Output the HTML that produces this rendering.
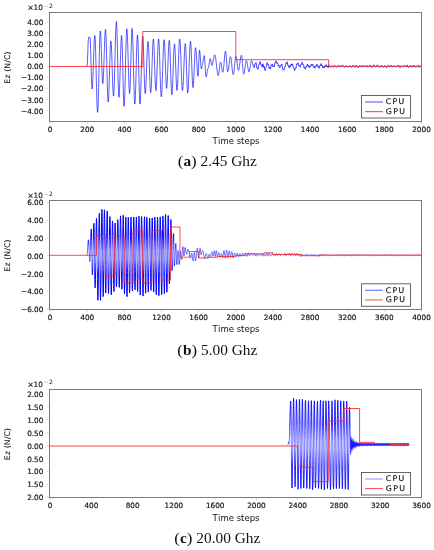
<!DOCTYPE html><html><head><meta charset="utf-8"><style>
html,body{margin:0;padding:0;background:#fff;width:434px;height:550px;overflow:hidden}
svg{display:block} .tk{font-family:'DejaVu Sans', 'Liberation Sans', sans-serif;font-size:7.3px;fill:#111111;stroke:#111111;stroke-width:0.18px} .xl{font-family:'DejaVu Sans', 'Liberation Sans', sans-serif;font-size:8.5px;fill:#111111} .yl{font-family:'DejaVu Sans', 'Liberation Sans', sans-serif;font-size:7.7px;fill:#111111;stroke:#111111;stroke-width:0.08px;letter-spacing:0.15px} .lg{font-family:'DejaVu Sans', 'Liberation Sans', sans-serif;font-size:7.8px;fill:#111111;stroke:#111111;stroke-width:0.15px;letter-spacing:1.3px} .cap{font-family:'Liberation Serif', serif;font-size:13.6px;fill:#111} .mul{font-family:'DejaVu Sans', 'Liberation Sans', sans-serif;font-size:7.3px;fill:#111111;stroke:#111111;stroke-width:0.15px} .sup{font-family:'DejaVu Sans', 'Liberation Sans', sans-serif;font-size:6px;fill:#111111;letter-spacing:0.3px}
</style></head><body>
<svg width="434" height="550" viewBox="0 0 434 550">
<defs><linearGradient id="g3" x1="0" y1="401" x2="0" y2="489" gradientUnits="userSpaceOnUse"><stop offset="0.2" stop-color="#0000ff" stop-opacity="0"/><stop offset="0.4" stop-color="#0000ff" stop-opacity="0.2"/><stop offset="0.6" stop-color="#0000ff" stop-opacity="0.2"/><stop offset="0.8" stop-color="#0000ff" stop-opacity="0"/></linearGradient><linearGradient id="s3" x1="0" y1="401" x2="0" y2="489" gradientUnits="userSpaceOnUse"><stop offset="0.25" stop-color="#0000ff" stop-opacity="1"/><stop offset="0.45" stop-color="#0000ff" stop-opacity="0.6"/><stop offset="0.55" stop-color="#0000ff" stop-opacity="0.6"/><stop offset="0.75" stop-color="#0000ff" stop-opacity="1"/></linearGradient><linearGradient id="s2" x1="0" y1="215" x2="0" y2="295" gradientUnits="userSpaceOnUse"><stop offset="0.25" stop-color="#0000ff" stop-opacity="1"/><stop offset="0.45" stop-color="#0000ff" stop-opacity="0.55"/><stop offset="0.55" stop-color="#0000ff" stop-opacity="0.55"/><stop offset="0.75" stop-color="#0000ff" stop-opacity="1"/></linearGradient><linearGradient id="g2" x1="0" y1="215" x2="0" y2="295" gradientUnits="userSpaceOnUse"><stop offset="0.12" stop-color="#0000ff" stop-opacity="0"/><stop offset="0.33" stop-color="#0000ff" stop-opacity="0.45"/><stop offset="0.67" stop-color="#0000ff" stop-opacity="0.45"/><stop offset="0.88" stop-color="#0000ff" stop-opacity="0"/></linearGradient></defs>
<polyline points="86.60,66.30 86.80,66.30 87.00,66.30 87.23,64.88 87.46,60.90 87.69,55.14 87.91,48.76 88.14,43.00 88.37,39.02 88.60,37.60 88.82,37.48 89.05,37.20 89.28,36.92 89.50,36.80 89.75,37.30 90.00,37.80 90.21,39.05 90.42,42.69 90.63,48.35 90.84,55.49 91.05,63.40 91.26,71.31 91.47,78.45 91.68,84.11 91.89,87.75 92.10,89.00 92.31,88.22 92.52,85.94 92.72,82.27 92.93,77.45 93.14,71.74 93.35,65.47 93.55,59.03 93.76,52.76 93.97,47.05 94.18,42.23 94.38,38.56 94.59,36.28 94.80,35.50 95.02,36.62 95.23,39.90 95.45,45.17 95.66,52.11 95.88,60.32 96.09,69.32 96.31,78.58 96.52,87.58 96.74,95.79 96.95,102.73 97.17,108.00 97.38,111.28 97.60,112.40 97.81,111.22 98.02,107.73 98.22,102.15 98.43,94.80 98.64,86.10 98.85,76.56 99.05,66.74 99.26,57.20 99.47,48.50 99.68,41.15 99.88,35.57 100.09,32.08 100.30,30.90 100.51,31.80 100.72,34.43 100.92,38.62 101.13,44.07 101.34,50.43 101.55,57.25 101.76,64.07 101.97,70.42 102.17,75.88 102.38,80.07 102.59,82.70 102.80,83.60 103.01,82.81 103.22,80.50 103.42,76.78 103.63,71.89 103.84,66.11 104.05,59.77 104.25,53.23 104.46,46.89 104.67,41.11 104.88,36.22 105.08,32.50 105.29,30.19 105.50,29.40 105.71,30.45 105.92,33.56 106.12,38.53 106.33,45.08 106.54,52.83 106.75,61.32 106.95,70.08 107.16,78.57 107.37,86.32 107.58,92.87 107.78,97.84 107.99,100.95 108.20,102.00 108.41,101.11 108.62,98.50 108.82,94.32 109.03,88.80 109.24,82.28 109.45,75.13 109.65,67.77 109.86,60.62 110.07,54.10 110.28,48.58 110.48,44.40 110.69,41.79 110.90,40.90 111.12,41.84 111.33,44.60 111.55,48.98 111.77,54.70 111.98,61.36 112.20,68.50 112.42,75.64 112.63,82.30 112.85,88.02 113.07,92.40 113.28,95.16 113.50,96.10 113.71,95.16 113.91,92.41 114.12,87.96 114.33,82.06 114.54,74.98 114.74,67.10 114.95,58.80 115.16,50.50 115.36,42.62 115.57,35.54 115.78,29.64 115.99,25.19 116.19,22.44 116.40,21.50 116.61,22.79 116.82,26.58 117.03,32.62 117.23,40.47 117.44,49.63 117.65,59.45 117.86,69.27 118.07,78.42 118.28,86.28 118.48,92.32 118.69,96.11 118.90,97.40 119.11,96.50 119.32,93.85 119.52,89.62 119.73,84.03 119.94,77.43 120.15,70.18 120.35,62.72 120.56,55.47 120.77,48.87 120.98,43.28 121.18,39.05 121.39,36.40 121.60,35.50 121.81,36.70 122.02,40.24 122.22,45.85 122.43,53.17 122.64,61.70 122.85,70.85 123.06,80.00 123.27,88.52 123.47,95.85 123.68,101.46 123.89,105.00 124.10,106.20 124.31,105.08 124.52,101.77 124.72,96.47 124.93,89.48 125.14,81.22 125.35,72.16 125.55,62.84 125.76,53.78 125.97,45.52 126.18,38.53 126.38,33.23 126.59,29.92 126.80,28.80 127.02,29.74 127.23,32.51 127.45,36.95 127.66,42.79 127.88,49.71 128.09,57.29 128.31,65.11 128.52,72.69 128.74,79.61 128.95,85.45 129.17,89.89 129.38,92.66 129.60,93.60 129.81,92.49 130.02,89.23 130.22,84.05 130.43,77.30 130.64,69.44 130.85,61.00 131.06,52.56 131.27,44.70 131.47,37.95 131.68,32.77 131.89,29.51 132.10,28.40 132.31,29.50 132.52,32.73 132.72,37.91 132.93,44.73 133.14,52.80 133.35,61.64 133.55,70.76 133.76,79.60 133.97,87.67 134.18,94.49 134.38,99.67 134.59,102.90 134.80,104.00 135.01,103.00 135.22,100.05 135.42,95.32 135.63,89.10 135.84,81.73 136.05,73.66 136.25,65.34 136.46,57.27 136.67,49.90 136.88,43.68 137.08,38.95 137.29,36.00 137.50,35.00 137.71,36.18 137.92,39.62 138.12,45.10 138.33,52.25 138.54,60.57 138.75,69.50 138.96,78.43 139.17,86.75 139.38,93.90 139.58,99.38 139.79,102.82 140.00,104.00 140.21,103.01 140.42,100.11 140.62,95.45 140.83,89.31 141.04,82.06 141.25,74.10 141.45,65.90 141.66,57.94 141.87,50.69 142.08,44.55 142.28,39.89 142.49,36.99 142.70,36.00 142.91,36.98 143.12,39.86 143.32,44.44 143.53,50.40 143.74,57.35 143.95,64.80 144.16,72.25 144.37,79.20 144.57,85.16 144.78,89.74 144.99,92.62 145.20,93.60 145.40,92.95 145.60,91.02 145.80,87.91 146.00,83.77 146.20,78.82 146.40,73.31 146.60,67.50 146.80,61.69 147.00,56.18 147.20,51.23 147.40,47.09 147.60,43.98 147.80,42.05 148.00,41.40 148.21,42.14 148.42,44.33 148.62,47.84 148.83,52.46 149.04,57.92 149.25,63.91 149.45,70.09 149.66,76.08 149.87,81.54 150.08,86.16 150.28,89.67 150.49,91.86 150.70,92.60 150.91,91.82 151.12,89.52 151.32,85.85 151.53,81.00 151.74,75.27 151.95,68.99 152.15,62.51 152.36,56.23 152.57,50.50 152.78,45.65 152.98,41.98 153.19,39.68 153.40,38.90 153.61,39.78 153.82,42.36 154.03,46.46 154.23,51.80 154.44,58.02 154.65,64.70 154.86,71.38 155.07,77.60 155.28,82.94 155.48,87.04 155.69,89.62 155.90,90.50 156.11,89.75 156.32,87.54 156.52,84.01 156.73,79.36 156.94,73.85 157.15,67.81 157.35,61.59 157.56,55.55 157.77,50.04 157.98,45.39 158.18,41.86 158.39,39.65 158.60,38.90 158.81,39.74 159.02,42.22 159.22,46.18 159.43,51.40 159.64,57.58 159.85,64.36 160.05,71.34 160.26,78.12 160.47,84.30 160.68,89.52 160.88,93.48 161.09,95.96 161.30,96.80 161.52,95.97 161.73,93.53 161.95,89.62 162.16,84.47 162.38,78.37 162.59,71.69 162.81,64.81 163.02,58.13 163.24,52.03 163.45,46.88 163.67,42.97 163.88,40.53 164.10,39.70 164.31,40.53 164.52,42.96 164.72,46.83 164.93,51.88 165.14,57.75 165.35,64.05 165.56,70.35 165.77,76.22 165.97,81.27 166.18,85.14 166.39,87.57 166.60,88.40 166.81,87.70 167.02,85.65 167.22,82.35 167.43,78.01 167.64,72.88 167.85,67.25 168.05,61.45 168.26,55.82 168.47,50.69 168.68,46.35 168.88,43.05 169.09,41.00 169.30,40.30 169.51,41.23 169.72,43.94 169.93,48.27 170.13,53.90 170.34,60.46 170.55,67.50 170.76,74.54 170.97,81.10 171.18,86.73 171.38,91.06 171.59,93.77 171.80,94.70 172.01,93.96 172.22,91.79 172.42,88.31 172.63,83.73 172.84,78.31 173.05,72.36 173.25,66.24 173.46,60.29 173.67,54.87 173.88,50.29 174.08,46.81 174.29,44.64 174.50,43.90 174.71,44.69 174.92,47.02 175.12,50.72 175.33,55.55 175.54,61.17 175.75,67.20 175.96,73.23 176.17,78.85 176.38,83.68 176.58,87.38 176.79,89.71 177.00,90.50 177.21,89.75 177.42,87.54 177.62,84.01 177.83,79.36 178.04,73.85 178.25,67.81 178.45,61.59 178.66,55.55 178.87,50.04 179.08,45.39 179.28,41.86 179.49,39.65 179.70,38.90 179.90,39.55 180.10,41.46 180.30,44.53 180.50,48.61 180.70,53.51 180.90,58.96 181.10,64.70 181.30,70.44 181.50,75.89 181.70,80.79 181.90,84.87 182.10,87.94 182.30,89.85 182.50,90.50 182.70,89.91 182.90,88.17 183.10,85.37 183.30,81.65 183.50,77.20 183.70,72.23 183.90,67.00 184.10,61.77 184.30,56.80 184.50,52.35 184.70,48.63 184.90,45.83 185.10,44.09 185.30,43.50 185.52,44.50 185.74,47.43 185.95,52.04 186.17,57.97 186.39,64.73 186.61,71.77 186.83,78.53 187.05,84.46 187.26,89.07 187.48,92.00 187.70,93.00 187.90,92.35 188.10,90.44 188.30,87.35 188.50,83.25 188.70,78.34 188.90,72.86 189.10,67.10 189.30,61.34 189.50,55.86 189.70,50.95 189.90,46.85 190.10,43.76 190.30,41.85 190.50,41.20 190.71,41.99 190.92,44.31 191.12,48.00 191.33,52.80 191.54,58.40 191.75,64.40 191.96,70.40 192.17,76.00 192.38,80.80 192.58,84.49 192.79,86.81 193.00,87.60 193.21,86.92 193.42,84.92 193.62,81.74 193.83,77.60 194.04,72.78 194.25,67.60 194.46,62.42 194.67,57.60 194.88,53.46 195.08,50.28 195.29,48.28 195.50,47.60 195.71,48.09 195.92,49.52 196.12,51.80 196.33,54.77 196.54,58.24 196.75,61.95 196.96,65.66 197.17,69.12 197.38,72.10 197.58,74.38 197.79,75.81 198.00,76.30 198.21,75.00 198.43,71.37 198.64,66.12 198.86,60.28 199.07,55.03 199.29,51.40 199.50,50.10 199.71,50.67 199.92,52.31 200.13,54.83 200.34,57.91 200.56,61.19 200.77,64.28 200.98,66.79 201.19,68.43 201.40,69.00 201.62,68.37 201.85,66.85 202.08,65.33 202.30,64.70 202.51,64.43 202.72,63.64 202.93,62.43 203.14,60.94 203.36,59.36 203.57,57.88 203.78,56.66 203.99,55.87 204.20,55.60 204.41,56.25 204.62,58.10 204.83,60.95 205.04,64.44 205.26,68.16 205.47,71.65 205.68,74.50 205.89,76.35 206.10,77.00 206.30,76.79 206.50,76.17 206.70,75.21 206.90,73.99 207.10,72.65 207.30,71.31 207.50,70.09 207.70,69.13 207.90,68.51 208.10,68.30 208.30,68.10 208.50,67.52 208.70,66.61 208.90,65.44 209.10,64.10 209.30,62.70 209.50,61.36 209.70,60.19 209.90,59.28 210.10,58.70 210.30,58.50 210.53,58.84 210.76,59.80 210.99,61.18 211.21,62.72 211.44,64.10 211.67,65.06 211.90,65.40 212.11,65.27 212.31,64.88 212.52,64.24 212.73,63.40 212.94,62.40 213.14,61.28 213.35,60.10 213.56,58.92 213.76,57.80 213.97,56.80 214.18,55.96 214.39,55.32 214.59,54.93 214.80,54.80 215.01,55.00 215.23,55.59 215.44,56.55 215.65,57.85 215.86,59.42 216.07,61.22 216.29,63.17 216.50,65.20 216.71,67.23 216.93,69.18 217.14,70.98 217.35,72.55 217.56,73.85 217.77,74.81 217.99,75.40 218.20,75.60 218.40,75.37 218.60,74.70 218.80,73.62 219.00,72.22 219.20,70.60 219.40,68.85 219.60,67.10 219.80,65.47 220.00,64.08 220.20,63.00 220.40,62.33 220.60,62.10 220.80,62.31 221.00,62.91 221.20,63.86 221.40,65.08 221.60,66.47 221.80,67.93 222.00,69.32 222.20,70.54 222.40,71.49 222.60,72.09 222.80,72.30 223.01,71.99 223.22,71.09 223.42,69.63 223.63,67.72 223.84,65.46 224.05,62.98 224.25,60.42 224.46,57.94 224.67,55.68 224.88,53.77 225.08,52.31 225.29,51.41 225.50,51.10 225.72,51.61 225.94,53.08 226.16,55.37 226.38,58.25 226.60,61.45 226.82,64.65 227.04,67.53 227.26,69.82 227.48,71.29 227.70,71.80 227.90,71.61 228.10,71.05 228.30,70.14 228.50,68.94 228.70,67.50 228.90,65.89 229.10,64.20 229.30,62.51 229.50,60.90 229.70,59.46 229.90,58.26 230.10,57.35 230.30,56.79 230.50,56.60 230.71,56.86 230.92,57.63 231.12,58.86 231.33,60.49 231.54,62.41 231.75,64.52 231.95,66.68 232.16,68.79 232.37,70.71 232.58,72.34 232.78,73.57 232.99,74.34 233.20,74.60 233.40,74.37 233.60,73.71 233.80,72.64 234.00,71.21 234.20,69.50 234.40,67.60 234.60,65.60 234.80,63.60 235.00,61.70 235.20,59.99 235.40,58.56 235.60,57.49 235.80,56.83 236.00,56.60 236.20,56.84 236.40,57.52 236.60,58.62 236.80,60.05 237.00,61.71 237.20,63.50 237.40,65.29 237.60,66.95 237.80,68.38 238.00,69.48 238.20,70.16 238.40,70.40 238.60,70.23 238.80,69.74 239.00,68.95 239.20,67.89 239.40,66.60 239.60,65.15 239.80,63.59 240.00,62.01 240.20,60.45 240.40,59.00 240.60,57.71 240.80,56.65 241.00,55.86 241.20,55.37 241.40,55.20 241.61,55.58 241.82,56.70 242.03,58.46 242.24,60.72 242.45,63.31 242.65,65.99 242.86,68.58 243.07,70.84 243.28,72.60 243.49,73.72 243.70,74.10 243.91,73.91 244.12,73.33 244.32,72.42 244.53,71.21 244.74,69.78 244.95,68.21 245.15,66.59 245.36,65.02 245.57,63.59 245.78,62.38 245.98,61.47 246.19,60.89 246.40,60.70 246.62,60.89 246.83,61.44 247.05,62.33 247.27,63.48 247.48,64.81 247.70,66.25 247.92,67.69 248.13,69.02 248.35,70.17 248.57,71.06 248.78,71.61 249.00,71.80 249.21,71.61 249.42,71.06 249.62,70.17 249.83,69.03 250.04,67.69 250.25,66.25 250.46,64.81 250.67,63.48 250.88,62.33 251.08,61.44 251.29,60.89 251.50,60.70 251.72,60.81 251.93,61.14 252.15,61.62 252.37,62.26 252.58,63.12 252.80,64.12" fill="none" stroke="#0000ff" stroke-opacity="0.72" stroke-width="0.9" stroke-linejoin="round"/>
<polyline points="252.80,64.12 253.02,64.97 253.23,65.54 253.45,65.94 253.67,66.47 253.88,67.16 254.10,67.65 254.31,67.36 254.53,66.22 254.74,64.83 254.96,63.89 255.17,63.62 255.39,63.55 255.60,63.19 255.81,62.61 256.02,62.50 256.23,63.51 256.44,65.39 256.66,67.19 256.87,68.12 257.08,68.18 257.29,68.01 257.50,68.23 257.71,68.86 257.92,69.30 258.12,68.89 258.33,67.56 258.54,65.97 258.75,64.86 258.96,64.54 259.17,64.59 259.38,64.35 259.58,63.50 259.79,62.36 260.00,61.65 260.20,61.84 260.40,62.80 260.60,63.98 260.80,64.77 261.00,64.96 261.20,64.80 261.40,64.82 261.60,65.36 261.80,66.30 262.00,67.13 262.20,67.21 262.40,66.32 262.60,64.95 262.80,63.87 263.00,63.69 263.20,64.53 263.40,65.91 263.60,67.04 263.80,67.36 264.00,66.87 264.24,66.44 264.48,67.31 264.72,69.07 264.96,70.48 265.20,70.56 265.40,69.67 265.60,68.54 265.80,67.70 266.00,67.33 266.20,67.11 266.40,66.54 266.60,65.37 266.80,63.90 267.00,62.78 267.20,62.57 267.40,63.25 267.60,64.23 267.80,64.85 268.00,64.85 268.20,64.52 268.40,64.51 268.60,65.26 268.80,66.59 269.00,67.83 269.20,68.36 269.40,68.10 269.60,67.61 269.80,67.55 270.00,68.14 270.20,68.86 270.40,68.92 270.60,68.00 270.80,66.50 271.00,65.22 271.20,64.76 271.40,65.02 271.60,65.34 271.80,65.17 272.01,64.46 272.22,63.89 272.43,64.19 272.64,65.33 272.86,66.51 273.07,66.93 273.28,66.49 273.49,65.89 273.70,65.88 273.91,66.45 274.12,66.90 274.33,66.51 274.54,65.16 274.75,63.54 274.96,62.48 275.17,62.30 275.38,62.59 275.59,62.62 275.80,62.09 276.01,61.29 276.22,60.85 276.43,61.25 276.64,62.27 276.85,63.22 277.06,63.52 277.27,63.19 277.48,62.83 277.69,63.04 277.90,64.00 278.11,65.24 278.32,66.10 278.53,66.20 278.74,65.79 278.95,65.48 279.16,65.78 279.37,66.66 279.58,67.59 279.79,67.96 280.00,67.56 280.21,66.61 280.43,65.71 280.64,65.38 280.86,65.54 281.07,65.68 281.29,65.36 281.50,64.59 281.70,64.00 281.90,64.14 282.10,65.20 282.30,66.86 282.50,68.43 282.70,69.34 282.90,69.47 283.10,69.18 283.30,69.00 283.51,69.31 283.71,69.95 283.92,70.26 284.12,69.76 284.33,68.57 284.53,67.31 284.74,66.62 284.94,66.62 285.15,66.79 285.36,66.45 285.56,65.34 285.77,63.91 285.97,62.92 286.18,62.81 286.38,63.28 286.59,63.59 286.79,63.22 287.00,62.35 287.21,61.80 287.42,62.33 287.63,63.76 287.84,65.22 288.06,65.93 288.27,65.87 288.48,65.75 288.69,66.21 288.90,67.15 289.10,67.85 289.30,67.81 289.50,67.00 289.70,66.04 289.90,65.63 290.10,65.96 290.30,66.54 290.50,66.65 290.70,65.97 290.90,64.89 291.10,64.12 291.30,64.14 291.50,64.75 291.70,65.30 291.90,65.23 292.10,64.53 292.32,63.80 292.53,63.92 292.75,65.00 292.97,66.41 293.18,67.32 293.40,67.47 293.62,67.33 293.83,67.63 294.05,68.65 294.27,69.93 294.48,70.70 294.70,70.50 294.91,69.63 295.11,68.76 295.32,68.39 295.53,68.53 295.74,68.68 295.94,68.27 296.15,67.12 296.36,65.61 296.56,64.38 296.77,63.89 296.98,64.07 297.19,64.41 297.39,64.36 297.60,63.80 297.82,63.03 298.04,62.75 298.25,63.34 298.47,64.53 298.69,65.57 298.91,65.91 299.13,65.58 299.35,65.21 299.56,65.42 299.78,66.26 300.00,67.14 300.20,67.31 300.40,66.62 300.60,65.45 300.80,64.42 301.00,64.03 301.20,64.21 301.40,64.44 301.60,64.20 301.80,63.39 302.00,62.49 302.21,62.16 302.43,62.78 302.64,63.95 302.85,64.81 303.07,64.89 303.28,64.54 303.49,64.57 303.71,65.48 303.92,66.92 304.13,68.01 304.35,68.17 304.56,67.67 304.77,67.38 304.99,67.86 305.20,68.80 305.41,69.31 305.62,68.83 305.83,67.64 306.04,66.61 306.25,66.35 306.45,66.70 306.66,66.88 306.87,66.29 307.08,65.14 307.29,64.24 307.50,64.26 307.70,65.06 307.90,65.94 308.10,66.25 308.30,65.90 308.50,65.40 308.70,65.41 308.90,66.15 309.10,67.19 309.30,67.83 309.50,67.66 309.71,66.82 309.92,66.02 310.12,65.85 310.33,66.30 310.54,66.76 310.75,66.62 310.96,65.74 311.17,64.63 311.38,63.97 311.58,64.11 311.79,64.78 312.00,65.34 312.21,65.31 312.42,64.78 312.62,64.27 312.83,64.37 313.04,65.22 313.25,66.40 313.46,67.27 313.67,67.42 313.88,66.99 314.08,66.55 314.29,66.60 314.50,67.22 314.71,67.96 314.92,68.23 315.12,67.72 315.33,66.69 315.54,65.76 315.75,65.45 315.96,65.78 316.17,66.25 316.38,66.26 316.58,65.61 316.79,64.67 317.00,64.12 317.20,64.38 317.40,65.28 317.60,66.25 317.80,66.72 318.00,66.55 318.20,66.14 318.40,66.09 318.60,66.68 318.80,67.65 319.00,68.33 319.20,68.19 319.40,67.28 319.60,66.19 319.80,65.59 320.00,65.69 320.20,66.05 320.40,66.02 320.60,65.29 320.80,64.25 321.00,63.62 321.21,63.92 321.42,64.91 321.62,65.79 321.83,65.94 322.04,65.47 322.25,65.17 322.46,65.66 322.67,66.82 322.88,67.86 323.08,68.06 323.29,67.44 323.50,66.73 323.71,66.67 323.92,67.30 324.12,67.94 324.33,67.83 324.54,66.91 324.75,65.83 324.96,65.38 325.17,65.74 325.38,66.38 325.58,66.53 325.79,65.92 326.00,65.03 326.20,64.64 326.40,65.06 326.60,66.01 326.80,66.85 327.00,67.03 327.20,66.59 327.40,66.04 327.60,65.97 327.80,66.53 328.00,67.36 328.21,67.79 328.43,67.28 328.64,66.12 328.86,65.11 329.07,64.88 329.29,65.48 329.49,66.30 329.70,66.74 329.90,66.57 330.11,66.35 330.32,66.46 330.52,66.73 330.73,67.09 330.95,67.33 331.17,67.24 331.39,66.82 331.60,66.29 331.82,65.95 332.04,65.95 332.26,66.15 332.48,66.29 332.68,66.33 332.89,66.37 333.09,66.52 333.29,66.81 333.50,67.16 333.71,67.39 333.93,67.25 334.15,66.71 334.37,66.01 334.59,65.56 334.81,65.60 335.03,65.96 335.25,66.27 335.47,66.29 335.69,66.12 335.90,66.06 336.12,66.32 336.34,66.82 336.56,67.20 336.78,67.20 337.00,66.89 337.20,66.62 337.40,66.56 337.60,66.70 337.80,66.80 338.00,66.62 338.20,66.16 338.40,65.66 338.61,65.40 338.81,65.51 339.01,65.81 339.23,66.01 339.45,65.92 339.67,65.74 339.89,65.83 340.11,66.28 340.33,66.81 340.55,67.01 340.77,66.79 340.99,66.40 341.21,66.19 341.43,66.25 341.65,66.30 341.87,66.06 342.09,65.53 342.31,65.06 342.53,65.00 342.74,65.34 342.94,65.85 343.15,66.23 343.35,66.37 343.55,66.42 343.76,66.57 343.96,66.91 344.16,67.29 344.36,67.48 344.56,67.34 344.76,66.91 344.96,66.42 345.17,66.12 345.37,66.09 345.57,66.23 345.77,66.32 345.97,66.23 346.18,65.98 346.39,65.79 346.60,65.90 346.82,66.31 347.03,66.82 347.24,67.14 347.45,67.15 347.67,66.93 347.88,66.74 348.10,66.72 348.33,66.83 348.56,66.83 348.79,66.55 349.01,66.07 349.24,65.69 349.44,65.66 349.65,65.94 349.85,66.36 350.05,66.67 350.26,66.73 350.46,66.59 350.67,66.47 350.87,66.56 351.07,66.86 351.28,67.19 351.49,67.28 351.69,66.98 351.90,66.44 352.11,65.95 352.31,65.72 352.52,65.75 352.73,65.80 352.93,65.66 353.14,65.34 353.35,65.10 353.55,65.20 353.76,65.69 353.97,66.35 354.17,66.84 354.38,66.99 354.59,66.93 354.79,66.93 355.00,67.13 355.21,67.37 355.42,67.31 355.63,66.79 355.84,66.01 356.05,65.39 356.26,65.22 356.47,65.46 356.69,65.80 356.91,65.96 357.13,66.00 357.35,66.23 357.57,66.77 357.79,67.41 358.01,67.70 358.21,67.51 358.42,67.08 358.62,66.71 358.83,66.61 359.03,66.72 359.24,66.74 359.44,66.50 359.65,66.04 359.85,65.66 360.06,65.60 360.29,65.99 360.53,66.52 360.76,66.78 360.99,66.67 361.22,66.45 361.44,66.45 361.65,66.66 361.87,66.83 362.09,66.71 362.30,66.28 362.52,65.79 362.73,65.54 362.95,65.61 363.17,65.86 363.38,66.00 363.60,65.92 363.82,65.72 364.04,65.68 364.26,65.97 364.48,66.49 364.70,66.96 364.91,67.12 365.13,66.91 365.33,66.58 365.54,66.32 365.74,66.26 365.94,66.33 366.14,66.36 366.34,66.18 366.54,65.83 366.74,65.49 366.95,65.41 367.15,65.72 367.35,66.29 367.55,66.84 367.76,67.13 367.96,67.07 368.16,66.84 368.38,66.65 368.59,66.64 368.80,66.68 369.01,66.52 369.23,66.05 369.44,65.44 369.65,65.01 369.86,65.01 370.07,65.37 370.27,65.82 370.47,66.11 370.67,66.19 370.87,66.24 371.08,66.48 371.28,66.97 371.48,67.47 371.68,67.69 371.89,67.49 372.09,67.01 372.29,66.56 372.49,66.36 372.70,66.35 372.90,66.27 373.10,65.93 373.30,65.39 373.51,64.95 373.71,64.90 373.91,65.22 374.11,65.66 374.31,65.92 374.51,65.94 374.71,65.88 374.91,66.00 375.11,66.39 375.32,66.85 375.52,67.08 375.72,66.92 375.92,66.49 376.13,66.09 376.33,65.94 376.53,66.00 376.74,66.05 376.94,65.86 377.14,65.43 377.35,65.02 377.55,64.88 377.76,65.13 377.97,65.58 378.17,65.95 378.38,66.08 378.59,66.04 378.80,66.09 379.01,66.39 379.22,66.88 379.43,67.29 379.63,67.39 379.84,67.14 380.05,66.72 380.25,66.40 380.46,66.32 380.67,66.40 380.87,66.45 381.08,66.29 381.28,65.94 381.49,65.61 381.71,65.52 381.94,65.81 382.16,66.30 382.38,66.69 382.60,66.78 382.82,66.66 383.04,66.58 383.27,66.74 383.49,67.08 383.71,67.29 383.94,67.09 384.16,66.54 384.38,65.95 384.61,65.69 384.83,65.87 385.03,66.21 385.24,66.44 385.44,66.44 385.64,66.34 385.84,66.34 386.05,66.61 386.25,67.09 386.45,67.54 386.65,67.69 386.86,67.50 387.08,66.96 387.30,66.35 387.52,65.95 387.74,65.79 387.96,65.70 388.18,65.53 388.39,65.39 388.60,65.54 388.81,66.07 389.03,66.68 389.24,67.00 389.45,66.85 389.68,66.40 389.91,66.05 390.13,65.98 390.36,65.99 390.58,65.79 390.81,65.39 391.01,65.12 391.22,65.18 391.42,65.59 391.63,66.08 391.83,66.35 392.04,66.30 392.24,66.15 392.44,66.17 392.65,66.45 392.85,66.82 393.07,66.96 393.29,66.71 393.51,66.25 393.72,65.95 393.94,65.99 394.16,66.22 394.37,66.34 394.59,66.17 394.80,65.87 395.01,65.73 395.21,65.92 395.42,66.36 395.63,66.79 395.83,66.96 396.04,66.84 396.25,66.61 396.45,66.52 396.66,66.63 396.87,66.83 397.07,66.86 397.28,66.58 397.48,66.06 397.69,65.52 397.89,65.21 398.10,65.22 398.31,65.41 398.51,65.56 398.71,65.57 398.91,65.54 399.11,65.62 399.31,65.96 399.52,66.55 399.72,67.21 399.92,67.65 400.12,67.69 400.35,67.30 400.57,66.73 400.80,66.36 401.03,66.27 401.26,66.32 401.49,66.26 401.70,66.04 401.92,65.80 402.13,65.81 402.35,66.14 402.56,66.60 402.78,66.87 402.99,66.80 403.21,66.49 403.42,66.22 403.62,66.13 403.83,66.20 404.03,66.22 404.24,66.04 404.45,65.70 404.66,65.43 404.88,65.51 405.10,65.96 405.31,66.48 405.53,66.72 405.75,66.61 405.96,66.40 406.18,66.41 406.39,66.55 406.60,66.51 406.81,66.12 407.02,65.50 407.23,65.04 407.46,65.12 407.69,65.81 407.92,66.65 408.15,67.13 408.38,67.15 408.61,67.03 408.81,67.08 409.02,67.29 409.23,67.35 409.44,67.06 409.64,66.49 409.85,65.96 410.06,65.74 410.27,65.85 410.47,66.03 410.68,66.02 410.90,65.81 411.13,65.67 411.35,65.89 411.57,66.45 411.79,67.04 412.01,67.28 412.23,67.08 412.46,66.70 412.68,66.46 412.90,66.45 413.12,66.50 413.34,66.33 413.56,65.89 413.79,65.39 414.01,65.17 414.22,65.37 414.42,65.85 414.63,66.34 414.84,66.61 415.05,66.64 415.26,66.61 415.47,66.69 415.68,66.94 415.89,67.22 416.10,67.30 416.32,67.04 416.53,66.53 416.74,66.04 416.96,65.80 417.17,65.84 417.38,65.97 417.59,65.98 417.81,65.76 418.02,65.52 418.24,65.55 418.46,65.97 418.67,66.64 418.89,67.21 419.11,67.38 419.32,67.16 419.54,66.78 419.75,66.50 419.97,66.42 420.18,66.37 420.40,66.19 420.61,65.86 420.84,65.83 421.07,66.37 421.30,66.95" fill="none" stroke="#0000ff" stroke-opacity="0.92" stroke-width="0.85" stroke-linejoin="round"/>
<polyline points="50.10,66.45 142.80,66.45 142.80,31.50 235.80,31.50 235.80,59.70 328.60,59.70 328.60,66.30 421.30,66.30" fill="none" stroke="#ff2020" stroke-width="0.85"/>
<rect x="49.5" y="12.5" width="372" height="109.0" fill="none" stroke="#7a7a7a" stroke-width="1"/>
<text x="50.10" y="131.80" text-anchor="middle" class="tk">0</text>
<line x1="50.10" y1="122.0" x2="50.10" y2="124.0" stroke="#bbb" stroke-width="0.5"/>
<text x="87.24" y="131.80" text-anchor="middle" class="tk">200</text>
<line x1="87.24" y1="122.0" x2="87.24" y2="124.0" stroke="#bbb" stroke-width="0.5"/>
<text x="124.38" y="131.80" text-anchor="middle" class="tk">400</text>
<line x1="124.38" y1="122.0" x2="124.38" y2="124.0" stroke="#bbb" stroke-width="0.5"/>
<text x="161.52" y="131.80" text-anchor="middle" class="tk">600</text>
<line x1="161.52" y1="122.0" x2="161.52" y2="124.0" stroke="#bbb" stroke-width="0.5"/>
<text x="198.66" y="131.80" text-anchor="middle" class="tk">800</text>
<line x1="198.66" y1="122.0" x2="198.66" y2="124.0" stroke="#bbb" stroke-width="0.5"/>
<text x="235.80" y="131.80" text-anchor="middle" class="tk">1000</text>
<line x1="235.80" y1="122.0" x2="235.80" y2="124.0" stroke="#bbb" stroke-width="0.5"/>
<text x="272.94" y="131.80" text-anchor="middle" class="tk">1200</text>
<line x1="272.94" y1="122.0" x2="272.94" y2="124.0" stroke="#bbb" stroke-width="0.5"/>
<text x="310.08" y="131.80" text-anchor="middle" class="tk">1400</text>
<line x1="310.08" y1="122.0" x2="310.08" y2="124.0" stroke="#bbb" stroke-width="0.5"/>
<text x="347.22" y="131.80" text-anchor="middle" class="tk">1600</text>
<line x1="347.22" y1="122.0" x2="347.22" y2="124.0" stroke="#bbb" stroke-width="0.5"/>
<text x="384.36" y="131.80" text-anchor="middle" class="tk">1800</text>
<line x1="384.36" y1="122.0" x2="384.36" y2="124.0" stroke="#bbb" stroke-width="0.5"/>
<text x="421.50" y="131.80" text-anchor="middle" class="tk">2000</text>
<line x1="421.50" y1="122.0" x2="421.50" y2="124.0" stroke="#bbb" stroke-width="0.5"/>
<text x="43.4" y="24.80" text-anchor="end" class="tk">4.00</text>
<line x1="46.5" y1="21.80" x2="49" y2="21.80" stroke="#bbb" stroke-width="0.5"/>
<text x="43.4" y="35.90" text-anchor="end" class="tk">3.00</text>
<line x1="46.5" y1="32.90" x2="49" y2="32.90" stroke="#bbb" stroke-width="0.5"/>
<text x="43.4" y="47.00" text-anchor="end" class="tk">2.00</text>
<line x1="46.5" y1="44.00" x2="49" y2="44.00" stroke="#bbb" stroke-width="0.5"/>
<text x="43.4" y="58.10" text-anchor="end" class="tk">1.00</text>
<line x1="46.5" y1="55.10" x2="49" y2="55.10" stroke="#bbb" stroke-width="0.5"/>
<text x="43.4" y="69.20" text-anchor="end" class="tk">0.00</text>
<line x1="46.5" y1="66.20" x2="49" y2="66.20" stroke="#bbb" stroke-width="0.5"/>
<text x="43.4" y="80.30" text-anchor="end" class="tk">−1.00</text>
<line x1="46.5" y1="77.30" x2="49" y2="77.30" stroke="#bbb" stroke-width="0.5"/>
<text x="43.4" y="91.40" text-anchor="end" class="tk">−2.00</text>
<line x1="46.5" y1="88.40" x2="49" y2="88.40" stroke="#bbb" stroke-width="0.5"/>
<text x="43.4" y="102.50" text-anchor="end" class="tk">−3.00</text>
<line x1="46.5" y1="99.50" x2="49" y2="99.50" stroke="#bbb" stroke-width="0.5"/>
<text x="43.4" y="113.60" text-anchor="end" class="tk">−4.00</text>
<line x1="46.5" y1="110.60" x2="49" y2="110.60" stroke="#bbb" stroke-width="0.5"/>
<text x="236" y="143.8" text-anchor="middle" class="xl">T<tspan dx="0.7">ime steps</tspan></text>
<text x="27.5" y="10.10" class="mul">×10</text>
<text x="43.6" y="7.80" class="sup"><tspan fill="#999">−</tspan>2</text>
<text transform="translate(10.3,67.50) rotate(-90)" text-anchor="middle" class="yl">Ez (N/C)</text>
<rect x="361.5" y="95.5" width="49" height="22.5" fill="#fff" stroke="#555" stroke-width="0.9"/>
<line x1="365" y1="102.0" x2="382.8" y2="102.0" stroke="#6a6aff" stroke-width="1.2"/>
<line x1="365" y1="111.6" x2="382.8" y2="111.6" stroke="#ff5a5a" stroke-width="1.2"/>
<text x="385.8" y="104.3" class="lg">CPU</text>
<text x="385.8" y="113.5" class="lg">GPU</text>
<text transform="translate(217.3,166.3) scale(1.13,1)" text-anchor="middle" class="cap"><tspan font-size="15px">(</tspan><tspan font-weight="bold">a</tspan><tspan font-size="15px">)</tspan> 2.45 Ghz</text>
<polyline points="86.60,255.30 86.80,255.30 87.00,255.30 87.15,254.92 87.30,253.82 87.45,252.11 87.60,249.94 87.75,247.55 87.90,245.16 88.05,242.99 88.20,241.28 88.35,240.18 88.50,239.80 88.66,240.63 88.83,242.98 88.99,246.50 89.15,250.65 89.31,254.80 89.47,258.32 89.64,260.67 89.80,261.50 89.95,260.70 90.10,258.40 90.25,254.80 90.40,250.27 90.55,245.25 90.70,240.23 90.85,235.70 91.00,232.10 91.15,229.80 91.30,229.00 91.46,231.26 91.61,237.60 91.77,246.77 91.93,256.93 92.09,266.10 92.24,272.44 92.40,274.70 92.55,273.44 92.70,269.79 92.85,264.11 93.00,256.94 93.15,249.00 93.30,241.06 93.45,233.89 93.60,228.21 93.75,224.56 93.90,223.30 94.07,226.49 94.24,235.44 94.41,248.37 94.59,262.73 94.76,275.66 94.93,284.61 95.10,287.80 95.26,285.71 95.41,279.68 95.57,270.45 95.72,259.13 95.88,247.07 96.03,235.75 96.19,226.52 96.34,220.49 96.50,218.40 96.66,220.87 96.81,227.98 96.97,238.88 97.12,252.24 97.28,266.46 97.43,279.82 97.59,290.72 97.74,297.83 97.90,300.30 98.06,297.68 98.21,290.12 98.37,278.55 98.52,264.35 98.68,249.25 98.83,235.05 98.99,223.48 99.14,215.92 99.30,213.30 99.45,216.61 99.60,226.04 99.75,240.15 99.90,256.80 100.05,273.45 100.20,287.56 100.35,296.99 100.50,300.30 100.66,297.56 100.81,289.67 100.97,277.57 101.12,262.74 101.28,246.96 101.43,232.12 101.59,220.03 101.74,212.14 101.90,209.40 102.06,212.72 102.23,222.17 102.39,236.32 102.55,253.00 102.71,269.68 102.88,283.83 103.04,293.28 103.20,296.60 103.35,293.30 103.50,283.89 103.65,269.81 103.80,253.20 103.95,236.59 104.10,222.51 104.25,213.10 104.40,209.80 104.56,212.96 104.73,221.97 104.89,235.45 105.05,251.35 105.21,267.25 105.38,280.73 105.54,289.74 105.70,292.90 105.85,290.90 106.00,285.08 106.15,276.02 106.30,264.60 106.45,251.95 106.60,239.30 106.75,227.88 106.90,218.82 107.05,213.00 107.20,211.00 107.36,214.14 107.53,223.07 107.69,236.43 107.85,252.20 108.01,267.97 108.17,281.33 108.34,290.26 108.50,293.40 108.66,291.08 108.81,284.40 108.97,274.18 109.12,261.63 109.28,248.27 109.43,235.72 109.59,225.50 109.74,218.82 109.90,216.50 110.06,218.86 110.21,225.65 110.37,236.05 110.52,248.81 110.68,262.39 110.83,275.15 110.99,285.55 111.14,292.34 111.30,294.70 111.45,291.89 111.60,283.89 111.75,271.92 111.90,257.80 112.05,243.68 112.20,231.71 112.35,223.71 112.50,220.90 112.65,222.63 112.80,227.64 112.95,235.45 113.10,245.29 113.25,256.20 113.40,267.11 113.55,276.95 113.70,284.76 113.85,289.77 114.00,291.50 114.16,288.11 114.31,278.60 114.47,264.87 114.63,249.63 114.79,235.90 114.94,226.39 115.10,223.00 115.26,224.93 115.41,230.47 115.57,238.97 115.72,249.40 115.88,260.50 116.03,270.92 116.19,279.43 116.34,284.97 116.50,286.90 116.66,284.34 116.83,277.06 116.99,266.16 117.15,253.30 117.31,240.44 117.47,229.54 117.64,222.26 117.80,219.70 117.95,221.36 118.10,226.16 118.25,233.65 118.40,243.09 118.55,253.55 118.70,264.01 118.85,273.45 119.00,280.94 119.15,285.74 119.30,287.40 119.45,284.68 119.60,276.93 119.75,265.33 119.90,251.65 120.05,237.97 120.20,226.37 120.35,218.62 120.50,215.90 120.66,218.11 120.81,224.47 120.97,234.22 121.12,246.19 121.28,258.91 121.43,270.88 121.59,280.63 121.74,286.99 121.90,289.20 122.06,286.38 122.23,278.36 122.39,266.36 122.55,252.20 122.71,238.04 122.88,226.04 123.04,218.02 123.20,215.20 123.36,218.19 123.53,226.71 123.69,239.46 123.85,254.50 124.01,269.54 124.17,282.29 124.34,290.81 124.50,293.80 124.66,290.88 124.83,282.57 124.99,270.13 125.15,255.45 125.31,240.77 125.47,228.33 125.64,220.02 125.80,217.10 125.95,220.13 126.10,228.76 126.25,241.67 126.40,256.90 126.55,272.13 126.70,285.04 126.85,293.67 127.00,296.70 127.16,293.68 127.33,285.09 127.49,272.22 127.65,257.05 127.81,241.88 127.98,229.01 128.14,220.42 128.30,217.40 128.46,220.27 128.62,228.43 128.79,240.64 128.95,255.05 129.11,269.46 129.28,281.67 129.44,289.83 129.60,292.70 129.76,290.42 129.91,283.86 130.07,273.80 130.22,261.46 130.38,248.34 130.53,236.00 130.69,225.94 130.84,219.38 131.00,217.10 131.16,219.33 131.31,225.73 131.47,235.55 131.62,247.59 131.78,260.41 131.93,272.45 132.09,282.27 132.24,288.67 132.40,290.90 132.56,288.67 132.71,282.27 132.87,272.45 133.02,260.41 133.18,247.59 133.33,235.55 133.49,225.73 133.64,219.33 133.80,217.10 133.97,220.70 134.14,230.79 134.31,245.36 134.49,261.54 134.66,276.11 134.83,286.20 135.00,289.80 135.16,287.61 135.31,281.30 135.47,271.62 135.62,259.76 135.78,247.14 135.93,235.28 136.09,225.60 136.24,219.29 136.40,217.10 136.57,220.78 136.74,231.11 136.91,246.02 137.09,262.58 137.26,277.49 137.43,287.82 137.60,291.50 137.76,289.23 137.91,282.69 138.07,272.68 138.22,260.39 138.38,247.31 138.53,235.03 138.69,225.01 138.84,218.47 139.00,216.20 139.17,220.10 139.34,231.03 139.51,246.83 139.69,264.37 139.86,280.17 140.03,291.10 140.20,295.00 140.36,292.63 140.51,285.82 140.67,275.38 140.82,262.57 140.98,248.93 141.13,236.12 141.29,225.68 141.44,218.87 141.60,216.50 141.76,218.90 141.91,225.81 142.07,236.40 142.22,249.39 142.38,263.21 142.53,276.20 142.69,286.79 142.84,293.70 143.00,296.10 143.15,294.16 143.30,288.53 143.45,279.76 143.60,268.70 143.75,256.45 143.90,244.20 144.05,233.14 144.20,224.37 144.35,218.74 144.50,216.80 144.66,220.58 144.81,231.18 144.97,246.50 145.13,263.50 145.29,278.82 145.44,289.42 145.60,293.20 145.75,290.30 145.90,282.06 146.05,269.71 146.20,255.15 146.35,240.59 146.50,228.24 146.65,220.00 146.80,217.10 146.95,218.94 147.10,224.26 147.25,232.56 147.40,243.01 147.55,254.60 147.70,266.19 147.85,276.64 148.00,284.94 148.15,290.26 148.30,292.10 148.46,289.29 148.62,281.28 148.79,269.29 148.95,255.15 149.11,241.01 149.28,229.02 149.44,221.01 149.60,218.20 149.76,220.38 149.91,226.65 150.07,236.25 150.22,248.03 150.38,260.57 150.53,272.35 150.69,281.95 150.84,288.22 151.00,290.40 151.17,286.82 151.34,276.77 151.51,262.26 151.69,246.14 151.86,231.63 152.03,221.58 152.20,218.00 152.35,219.81 152.50,225.08 152.65,233.27 152.80,243.60 152.95,255.05 153.10,266.50 153.25,276.83 153.40,285.02 153.55,290.29 153.70,292.10 153.86,288.39 154.01,277.98 154.17,262.94 154.33,246.26 154.49,231.22 154.64,220.81 154.80,217.10 154.95,219.00 155.10,224.51 155.25,233.09 155.40,243.91 155.55,255.90 155.70,267.89 155.85,278.71 156.00,287.29 156.15,292.80 156.30,294.70 156.47,290.86 156.64,280.09 156.81,264.53 156.99,247.27 157.16,231.71 157.33,220.94 157.50,217.10 157.66,219.47 157.81,226.28 157.97,236.72 158.12,249.53 158.28,263.17 158.43,275.98 158.59,286.42 158.74,293.23 158.90,295.60 159.06,292.60 159.22,284.07 159.39,271.31 159.55,256.25 159.71,241.19 159.88,228.43 160.04,219.90 160.20,216.90 160.35,218.80 160.50,224.33 160.65,232.94 160.80,243.78 160.95,255.80 161.10,267.82 161.25,278.66 161.40,287.27 161.55,292.80 161.70,294.70 161.85,291.70 162.00,283.16 162.15,270.38 162.30,255.30 162.45,240.22 162.60,227.44 162.75,218.90 162.90,215.90 163.05,217.80 163.20,223.32 163.35,231.91 163.50,242.74 163.65,254.75 163.80,266.76 163.95,277.59 164.10,286.18 164.25,291.70 164.40,293.60 164.56,289.67 164.71,278.65 164.87,262.73 165.03,245.07 165.19,229.15 165.34,218.13 165.50,214.20 165.66,216.55 165.81,223.32 165.97,233.70 166.12,246.43 166.28,259.97 166.43,272.70 166.59,283.08 166.74,289.85 166.90,292.20 167.06,289.28 167.22,280.97 167.39,268.53 167.55,253.85 167.71,239.17 167.88,226.73 168.04,218.42 168.20,215.50 168.35,218.11 168.50,225.53 168.65,236.64 168.80,249.75 168.95,262.86 169.10,273.97 169.25,281.39 169.40,284.00 169.55,282.42 169.70,277.85 169.85,270.73 170.00,261.75 170.15,251.80 170.30,241.85 170.45,232.87 170.60,225.75 170.75,221.18 170.90,219.60 171.06,222.13 171.21,229.20 171.37,239.43 171.53,250.77 171.69,261.00 171.84,268.07 172.00,270.60 172.15,269.69 172.30,267.06 172.45,262.95 172.60,257.78 172.75,252.05 172.90,246.32 173.05,241.15 173.20,237.04 173.35,234.41 173.50,233.50 173.65,235.68 173.80,241.62 173.95,249.75 174.10,257.88 174.25,263.82 174.40,266.00 174.56,265.32 174.71,263.38 174.87,260.40 175.02,256.74 175.18,252.86 175.33,249.20 175.49,246.22 175.64,244.28 175.80,243.60 175.97,245.00 176.13,248.82 176.30,254.05 176.47,259.27 176.63,263.10 176.80,264.50 176.96,263.97 177.12,262.45 177.29,260.18 177.45,257.50 177.61,254.82 177.78,252.55 177.94,251.03 178.10,250.50 178.26,251.19 178.41,253.14 178.57,255.94 178.73,259.06 178.89,261.86 179.04,263.81 179.20,264.50 179.36,264.00 179.52,262.57 179.69,260.43 179.85,257.90 180.01,255.37 180.18,253.23 180.34,251.80 180.50,251.30 180.66,251.72 180.81,252.90 180.97,254.60 181.13,256.50 181.29,258.20 181.44,259.38 181.60,259.80 181.75,259.30 181.90,257.88 182.05,255.76 182.20,253.25 182.35,250.74 182.50,248.62 182.65,247.20 182.80,246.70 182.97,247.16 183.14,248.45 183.31,250.32 183.49,252.38 183.66,254.25 183.83,255.54 184.00,256.00 184.16,255.58 184.31,254.40 184.47,252.70 184.63,250.80 184.79,249.10 184.94,247.92 185.10,247.50 185.25,247.67 185.40,248.16 185.55,248.92 185.70,249.88 185.85,250.95 186.00,252.02 186.15,252.98 186.30,253.74 186.45,254.23 186.60,254.40 186.76,254.19 186.93,253.61 187.09,252.73 187.25,251.70 187.41,250.67 187.57,249.79 187.74,249.21 187.90,249.00 188.05,249.17 188.20,249.62 188.35,250.25 188.50,250.88 188.65,251.33 188.80,251.50 188.95,251.60 189.11,251.89 189.26,252.36 189.42,252.97 189.57,253.69 189.72,254.49 189.88,255.31 190.03,256.11 190.18,256.83 190.34,257.44 190.49,257.91 190.65,258.20 190.80,258.30 190.97,257.95 191.13,257.00 191.30,255.70 191.47,254.40 191.63,253.45 191.80,253.10 191.96,253.34 192.11,254.04 192.27,255.10 192.42,256.41 192.58,257.79 192.73,259.10 192.89,260.16 193.04,260.86 193.20,261.10 193.35,260.77 193.50,259.83 193.65,258.41 193.80,256.75 193.95,255.09 194.10,253.67 194.25,252.73 194.40,252.40 194.57,252.81 194.74,253.96 194.91,255.63 195.09,257.47 195.26,259.14 195.43,260.29 195.60,260.70 195.75,260.45 195.91,259.72 196.06,258.56 196.22,257.08 196.37,255.38 196.53,253.62 196.68,251.92 196.84,250.44 196.99,249.28 197.15,248.55 197.30,248.30 197.46,248.59 197.61,249.43 197.77,250.72 197.92,252.31 198.08,253.99 198.23,255.57 198.39,256.87 198.54,257.71 198.70,258.00 198.86,257.71 199.01,256.87 199.17,255.58 199.32,253.99 199.48,252.31 199.63,250.73 199.79,249.43 199.94,248.59 200.10,248.30 200.27,248.74 200.43,249.95 200.60,251.60 200.77,253.25 200.93,254.46 201.10,254.90 201.26,254.79 201.42,254.47 201.58,253.97 201.74,253.35 201.90,252.65 202.06,251.95 202.22,251.33 202.38,250.83 202.54,250.51 202.70,250.40 202.86,250.54 203.02,250.96 203.17,251.62 203.33,252.47 203.49,253.48 203.65,254.55 203.81,255.62 203.97,256.62 204.12,257.48 204.28,258.14 204.44,258.56 204.60,258.70 204.75,258.57 204.90,258.20 205.05,257.63 205.20,256.90 205.35,256.10 205.50,255.30 205.65,254.57 205.80,254.00 205.95,253.63 206.10,253.50 206.26,253.58 206.42,253.82 206.57,254.20 206.73,254.70 206.89,255.28 207.05,255.90 207.21,256.52 207.37,257.10 207.53,257.60 207.68,257.98 207.84,258.22 208.00,258.30 208.16,258.10 208.31,257.53 208.47,256.71 208.63,255.79 208.79,254.97 208.94,254.40 209.10,254.20 209.26,254.28 209.41,254.52 209.57,254.87 209.72,255.32 209.88,255.78 210.03,256.22 210.19,256.58 210.34,256.82 210.50,256.90 210.66,256.70 210.82,256.14 210.99,255.29 211.15,254.30 211.31,253.31 211.48,252.46 211.64,251.90 211.80,251.70 211.96,251.92 212.11,252.55 212.27,253.45 212.43,254.45 212.59,255.35 212.74,255.98 212.90,256.20 213.06,256.03 213.21,255.56 213.37,254.82 213.52,253.93 213.68,252.97 213.83,252.07 213.99,251.34 214.14,250.87 214.30,250.70 214.47,251.10 214.63,252.17 214.80,253.65 214.97,255.12 215.13,256.20 215.30,256.60 215.47,256.20 215.63,255.13 215.80,253.65 215.97,252.18 216.13,251.10 216.30,250.70 216.46,250.93 216.62,251.59 216.79,252.58 216.95,253.75 217.11,254.92 217.28,255.91 217.44,256.57 217.60,256.80 217.75,256.64 217.90,256.17 218.05,255.47 218.20,254.65 218.35,253.83 218.50,253.13 218.65,252.66 218.80,252.50 218.96,252.65 219.11,253.08 219.27,253.75 219.42,254.57 219.58,255.43 219.73,256.25 219.89,256.92 220.04,257.35 220.20,257.50 220.36,257.35 220.52,256.91 220.69,256.27 220.85,255.50 221.01,254.73 221.18,254.09 221.34,253.65 221.50,253.50 221.66,253.66 221.82,254.13 221.99,254.83 222.15,255.65 222.31,256.47 222.48,257.17 222.64,257.64 222.80,257.80 222.97,257.44 223.14,256.43 223.31,254.96 223.49,253.34 223.66,251.87 223.83,250.86 224.00,250.50 224.16,250.79 224.32,251.63 224.49,252.88 224.65,254.35 224.81,255.82 224.98,257.07 225.14,257.91 225.30,258.20 225.46,257.89 225.62,257.00 225.79,255.67 225.95,254.10 226.11,252.53 226.28,251.20 226.44,250.31 226.60,250.00 226.76,250.30 226.93,251.17 227.09,252.47 227.25,254.00 227.41,255.53 227.57,256.83 227.74,257.70 227.90,258.00 228.06,257.73 228.22,256.95 228.39,255.78 228.55,254.40 228.71,253.02 228.88,251.85 229.04,251.07 229.20,250.80 229.36,251.06 229.52,251.78 229.69,252.87 229.85,254.15 230.01,255.43 230.18,256.52 230.34,257.24 230.50,257.50 230.66,257.27 230.82,256.62 230.99,255.65 231.15,254.50 231.31,253.35 231.48,252.38 231.64,251.73 231.80,251.50 231.96,251.75 232.12,252.45 232.29,253.51 232.45,254.75 232.61,255.99 232.78,257.05 232.94,257.75 233.10,258.00 233.26,257.80 233.43,257.24 233.59,256.39 233.75,255.40 233.91,254.41 234.07,253.56 234.24,253.00 234.40,252.80 234.56,252.92 234.71,253.27 234.87,253.80 235.02,254.45 235.18,255.15 235.33,255.80 235.49,256.33 235.64,256.68 235.80,256.80 235.96,256.69 236.11,256.36 236.27,255.85 236.42,255.23 236.58,254.57 236.73,253.95 236.89,253.44 237.04,253.11 237.20,253.00 237.36,253.12 237.51,253.47 237.67,254.00 237.82,254.65 237.98,255.35 238.13,256.00 238.29,256.53 238.44,256.88 238.60,257.00 238.76,256.89 238.91,256.59 239.07,256.12 239.22,255.55 239.38,254.95 239.53,254.38 239.69,253.91 239.84,253.61 240.00,253.50 240.16,253.59 240.31,253.85 240.47,254.25 240.62,254.74 240.78,255.26 240.93,255.75 241.09,256.15 241.24,256.41 241.40,256.50 241.56,256.40 241.71,256.11 241.87,255.68 242.02,255.14 242.18,254.56 242.33,254.03 242.49,253.59 242.64,253.30 242.80,253.20 242.96,253.29 243.11,253.55 243.27,253.95 243.42,254.44 243.58,254.96 243.73,255.45 243.89,255.85 244.04,256.11 244.20,256.20 244.35,256.10 244.51,255.83 244.66,255.41 244.81,254.89 244.96,254.34 245.12,253.82 245.27,253.40 245.42,253.13 245.57,253.03 245.74,253.13 245.90,253.43 246.07,253.87 246.23,254.42 246.39,255.01 246.56,255.56 246.72,256.00 246.89,256.30 247.05,256.40 247.21,256.29 247.37,255.98 247.53,255.51 247.69,254.93 247.85,254.31 248.01,253.73 248.17,253.26 248.33,252.95 248.49,252.84 248.66,253.04 248.83,253.58 249.00,254.32 249.17,255.06 249.34,255.60 249.51,255.80 249.67,255.74 249.83,255.55 249.98,255.26 250.14,254.90 250.30,254.50 250.45,254.09 250.61,253.73 250.77,253.44 250.92,253.25 251.08,253.19 251.23,253.24 251.39,253.40 251.54,253.64 251.69,253.94 251.85,254.28 252.00,254.61 252.16,254.92 252.31,255.16 252.46,255.31 252.62,255.37 252.78,255.30 252.94,255.12 253.10,254.85 253.26,254.52 253.42,254.20 253.58,253.93 253.74,253.75 253.90,253.68 254.07,253.77 254.23,254.01 254.40,254.36 254.56,254.79 254.73,255.21 254.89,255.57 255.06,255.80 255.23,255.89 255.39,255.74 255.56,255.35 255.73,254.81 255.90,254.27 256.07,253.87 256.23,253.73 256.40,253.86 256.57,254.21 256.73,254.72 256.90,255.28 257.07,255.79 257.24,256.14 257.40,256.26 257.56,256.19 257.73,255.98 257.89,255.65 258.05,255.25 258.21,254.82 258.37,254.42 258.54,254.10 258.70,253.88 258.86,253.81 259.03,253.86 259.19,253.99 259.35,254.20 259.52,254.45 259.68,254.72 259.85,254.97 260.01,255.18 260.18,255.31 260.34,255.36 260.49,255.32 260.64,255.19 260.80,254.99 260.95,254.74 261.10,254.48 261.25,254.23 261.41,254.03 261.56,253.90 261.71,253.86 261.88,254.01 262.04,254.43 262.21,255.01 262.38,255.59 262.54,256.01 262.71,256.16 262.87,256.04 263.03,255.71 263.19,255.23 263.35,254.70 263.52,254.22 263.68,253.89 263.84,253.77 264.00,253.83 264.15,254.00 264.31,254.26 264.47,254.59 264.63,254.95 264.79,255.32 264.95,255.65 265.11,255.91 265.27,256.08 265.43,256.14 265.59,255.98 265.76,255.54 265.93,254.91 266.10,254.21 266.26,253.57 266.43,253.13 266.60,252.98 266.77,253.09 266.93,253.41 267.10,253.88 267.26,254.44 267.43,255.00 267.59,255.48 267.76,255.79 267.92,255.90 268.08,255.76 268.24,255.36 268.40,254.78 268.57,254.14 268.73,253.57 268.89,253.17 269.05,253.02 269.20,253.12 269.36,253.39 269.52,253.82 269.67,254.33 269.83,254.88 269.99,255.40 270.15,255.82 270.30,256.09 270.46,256.19 270.61,256.13 270.77,255.95 270.92,255.68 271.08,255.34 271.23,254.96 271.38,254.58 271.54,254.23 271.69,253.96 271.84,253.79 272.00,253.73 272.15,253.79 272.30,253.96 272.45,254.22 272.61,254.53 272.76,254.83 272.91,255.09 273.06,255.27 273.21,255.33 273.37,255.26 273.52,255.08 273.68,254.80 273.84,254.50 273.99,254.23 274.15,254.05 274.30,253.98 274.47,254.07 274.64,254.32 274.81,254.67 274.98,255.07 275.14,255.43 275.31,255.68 275.48,255.77 275.65,255.60 275.82,255.17 275.98,254.57 276.15,253.97 276.32,253.53 276.48,253.37 276.63,253.45 276.78,253.67 276.94,254.01 277.09,254.41 277.24,254.81 277.39,255.15 277.54,255.37 277.69,255.45 277.85,255.40 278.02,255.23 278.18,254.99 278.35,254.68 278.52,254.36 278.68,254.05 278.85,253.80 279.01,253.64 279.18,253.59 279.35,253.69 279.52,253.97 279.69,254.37 279.86,254.82 280.03,255.23 280.20,255.51 280.37,255.61 280.53,255.56 280.68,255.42 280.84,255.21 281.00,254.95 281.16,254.67 281.32,254.42 281.47,254.20 281.63,254.07 281.79,254.02 281.95,254.05 282.11,254.13 282.27,254.25 282.42,254.41 282.58,254.58 282.74,254.75 282.90,254.91 283.06,255.04 283.22,255.12 283.38,255.14 283.54,255.09 283.70,254.92 283.86,254.68 284.02,254.37 284.18,254.05 284.34,253.74 284.50,253.49 284.66,253.33 284.83,253.28 284.99,253.45 285.16,253.92 285.33,254.57 285.50,255.21 285.67,255.69 285.84,255.86 285.99,255.77 286.14,255.52 286.29,255.15 286.45,254.70 286.60,254.26 286.75,253.89 286.90,253.64 287.06,253.55 287.22,253.65 287.39,253.95 287.56,254.35 287.73,254.75 287.89,255.04 288.06,255.15 288.22,255.05 288.38,254.78 288.54,254.40 288.69,253.97 288.85,253.58 289.01,253.31 289.17,253.21 289.33,253.34 289.49,253.70 289.65,254.22 289.81,254.79 289.97,255.31 290.13,255.66 290.29,255.79 290.44,255.73 290.60,255.55 290.75,255.27 290.91,254.91 291.07,254.52 291.22,254.13 291.38,253.78 291.53,253.50 291.69,253.32 291.85,253.25 292.00,253.34 292.15,253.57 292.30,253.92 292.45,254.33 292.60,254.74 292.75,255.09 292.90,255.32 293.05,255.41 293.22,255.33 293.38,255.12 293.54,254.79 293.71,254.42 293.87,254.04 294.04,253.72 294.20,253.50 294.37,253.43 294.52,253.54 294.67,253.86 294.82,254.33 294.98,254.84 295.13,255.30 295.28,255.62 295.43,255.74 295.60,255.67 295.76,255.46 295.92,255.15 296.09,254.76 296.25,254.35 296.42,253.97 296.58,253.65 296.75,253.45 296.91,253.38 297.08,253.54 297.25,254.00 297.42,254.63 297.59,255.26 297.76,255.72 297.93,255.89 298.08,255.79 298.23,255.50 298.38,255.09 298.53,254.64 298.69,254.23 298.84,253.94 298.99,253.84 299.14,253.92 299.29,254.16 299.44,254.52 299.59,254.96 299.75,255.43 299.90,255.87 300.05,256.22 300.20,256.46 300.35,256.54 300.50,256.45 300.65,256.18 300.80,255.78 300.96,255.30 301.11,254.83 301.26,254.43 301.41,254.16 301.56,254.07 301.72,254.14 301.89,254.35 302.05,254.67 302.22,255.04 302.39,255.41 302.55,255.73 302.72,255.94 302.88,256.01 303.05,255.95 303.22,255.76 303.39,255.50 303.56,255.21 303.73,254.95 303.90,254.77 304.07,254.71 304.25,254.79 304.42,255.00 304.60,255.29 304.77,255.57 304.95,255.79 305.12,255.86 305.28,255.81 305.44,255.65 305.59,255.41 305.75,255.12 305.91,254.80 306.06,254.51 306.22,254.27 306.38,254.11 306.53,254.06 306.69,254.14 306.85,254.38 307.00,254.72 307.16,255.10 307.32,255.45 307.47,255.69 307.63,255.77 307.79,255.74 307.95,255.64 308.11,255.50 308.27,255.32 308.43,255.11 308.59,254.91 308.75,254.72 308.91,254.58 309.06,254.48 309.22,254.45 309.38,254.51 309.53,254.66 309.69,254.90 309.85,255.18 310.00,255.46 310.16,255.69 310.31,255.85 310.47,255.91 310.62,255.86 310.77,255.71 310.92,255.49 311.07,255.22 311.22,254.93 311.37,254.66 311.52,254.44 311.67,254.29 311.82,254.24 311.98,254.31 312.14,254.51 312.30,254.80 312.46,255.14 312.62,255.48 312.78,255.77 312.94,255.97 313.10,256.03 313.27,255.91 313.44,255.58 313.61,255.12 313.79,254.66 313.96,254.32 314.13,254.20 314.30,254.32 314.47,254.67 314.64,255.14 314.81,255.61 314.98,255.95 315.15,256.08 315.30,256.04 315.45,255.95 315.60,255.81 315.75,255.64 315.90,255.44 316.05,255.24 316.20,255.07 316.35,254.93 316.50,254.84 316.65,254.80 316.81,254.85 316.97,254.99 317.13,255.20 317.29,255.46 317.45,255.73 317.61,255.99 317.77,256.20 317.93,256.34 318.09,256.39 318.25,256.33 318.40,256.15 318.55,255.88 318.70,255.54 318.86,255.19 319.01,254.85 319.16,254.58 319.32,254.40 319.47,254.34 319.62,254.42 319.77,254.65 319.93,254.99 320.08,255.35 320.23,255.68 320.38,255.91 320.53,256.00 320.69,255.91 320.85,255.68 321.00,255.34 321.16,254.97 321.31,254.64 321.47,254.40 321.62,254.32 321.79,254.40 321.96,254.64 322.13,254.97 322.30,255.34 322.46,255.68 322.63,255.91 322.80,255.99 322.96,255.95 323.12,255.84 323.28,255.65 323.44,255.42 323.60,255.17 323.76,254.91 323.92,254.68 324.08,254.50 324.24,254.38 324.40,254.34 324.56,254.38 324.72,254.50 324.88,254.68 325.03,254.91 325.19,255.16 325.35,255.41 325.51,255.64 325.67,255.82 325.83,255.93 325.99,255.97 326.15,255.91 326.31,255.75 326.47,255.50 326.63,255.21 326.79,254.92 326.96,254.67 327.12,254.51 327.28,254.45 327.44,254.51 327.60,254.66 327.76,254.88 327.92,255.15 328.08,255.42 328.24,255.64 328.41,255.79 328.57,255.85 328.72,255.81 328.88,255.70 329.03,255.54 329.19,255.35 329.34,255.16 329.50,255.00 329.65,254.89 329.81,254.85 329.96,254.90 330.12,255.02 330.27,255.21 330.42,255.42 330.57,255.64 330.73,255.83 330.88,255.95 331.03,255.99 331.19,255.96 331.35,255.86 331.51,255.71 331.67,255.51 331.82,255.29 331.98,255.08 332.14,254.88 332.30,254.73 332.45,254.63 332.61,254.59 332.77,254.63 332.94,254.75 333.10,254.92 333.26,255.12 333.42,255.33 333.59,255.50 333.75,255.62 333.91,255.66 334.06,255.61 334.21,255.49 334.36,255.31 334.51,255.12 334.66,254.94 334.81,254.82 334.96,254.78 335.13,254.81 335.29,254.91 335.45,255.07 335.62,255.25 335.78,255.45 335.94,255.64 336.11,255.80 336.27,255.90 336.43,255.93 336.58,255.88 336.74,255.72 336.89,255.49 337.04,255.22 337.19,254.95 337.35,254.72 337.50,254.57 337.65,254.51 337.81,254.55 337.98,254.67 338.14,254.84 338.30,255.06 338.46,255.29 338.63,255.51 338.79,255.69 338.95,255.80 339.11,255.84 339.27,255.80 339.43,255.69 339.58,255.51 339.74,255.30 339.89,255.07 340.05,254.85 340.20,254.68 340.36,254.56 340.51,254.52 340.67,254.58 340.82,254.72 340.97,254.93 341.12,255.19 341.27,255.44 341.43,255.65 341.58,255.80 341.73,255.85 341.90,255.79 342.06,255.62 342.23,255.39 342.40,255.13 342.57,254.89 342.73,254.73 342.90,254.67 343.06,254.70 343.22,254.80 343.39,254.96 343.55,255.15 343.71,255.36 343.87,255.55 344.04,255.70 344.20,255.80 344.36,255.84 344.53,255.77 344.70,255.57 344.87,255.29 345.03,254.98 345.20,254.69 345.37,254.50 345.54,254.43 345.69,254.47 345.85,254.59 346.00,254.77 346.16,254.99 346.31,255.22 346.46,255.44 346.62,255.62 346.77,255.74 346.93,255.78 347.10,255.71 347.26,255.50 347.43,255.21 347.60,254.92 347.77,254.71 347.93,254.64 348.10,254.69 348.26,254.86 348.43,255.10 348.59,255.37 348.76,255.60 348.92,255.77 349.08,255.83 349.24,255.78 349.40,255.63 349.56,255.42 349.72,255.16 349.88,254.91 350.04,254.69 350.20,254.55 350.36,254.50 350.52,254.54 350.67,254.66 350.83,254.85 350.98,255.07 351.13,255.32 351.29,255.54 351.44,255.73 351.60,255.85 351.75,255.89 351.90,255.84 352.05,255.70 352.20,255.49 352.36,255.24 352.51,254.99 352.66,254.78 352.81,254.63 352.96,254.59 353.12,254.63 353.28,254.74 353.44,254.92 353.60,255.13 353.76,255.36 353.92,255.58 354.08,255.76 354.24,255.87 354.40,255.91 354.55,255.86 354.71,255.70 354.86,255.47 355.01,255.20 355.16,254.92 355.31,254.69 355.46,254.54 355.61,254.48 355.76,254.51 355.92,254.61 356.07,254.76 356.22,254.95 356.37,255.16 356.53,255.37 356.68,255.56 356.83,255.71 356.98,255.80 357.13,255.84 357.29,255.80 357.45,255.70 357.61,255.55 357.77,255.35 357.93,255.13 358.09,254.91 358.24,254.71 358.40,254.56 358.56,254.46 358.72,254.42 358.88,254.47 359.05,254.62 359.21,254.83 359.38,255.09 359.54,255.34 359.70,255.56 359.87,255.70 360.03,255.76 360.19,255.69 360.35,255.52 360.50,255.26 360.66,254.98 360.82,254.72 360.97,254.55 361.13,254.48 361.29,254.52 361.44,254.60 361.60,254.74 361.76,254.91 361.91,255.11 362.07,255.30 362.22,255.47 362.38,255.61 362.54,255.70 362.69,255.73 362.85,255.69 363.01,255.59 363.16,255.43 363.32,255.24 363.48,255.03 363.64,254.84 363.79,254.68 363.95,254.58 364.11,254.55 364.27,254.58 364.43,254.67 364.59,254.80 364.75,254.97 364.91,255.15 365.07,255.31 365.23,255.45 365.39,255.54 365.55,255.57 365.71,255.54 365.87,255.46 366.04,255.33 366.20,255.18 366.36,255.01 366.53,254.86 366.69,254.73 366.85,254.65 367.01,254.62 367.17,254.65 367.33,254.74 367.48,254.89 367.64,255.06 367.79,255.25 367.95,255.43 368.10,255.57 368.26,255.67 368.41,255.70 368.57,255.66 368.72,255.56 368.87,255.40 369.02,255.21 369.18,255.01 369.33,254.81 369.48,254.66 369.64,254.55 369.79,254.52 369.94,254.56 370.10,254.67 370.25,254.85 370.40,255.07 370.56,255.30 370.71,255.52 370.86,255.70 371.02,255.81 371.17,255.85 371.34,255.79 371.51,255.60 371.68,255.35 371.85,255.09 372.02,254.90 372.19,254.84 372.34,254.87 372.50,254.98 372.66,255.14 372.82,255.33 372.98,255.52 373.14,255.67 373.29,255.78 373.45,255.82 373.61,255.76 373.77,255.58 373.94,255.33 374.10,255.05 374.26,254.80 374.42,254.63 374.58,254.56 374.74,254.59 374.89,254.67 375.04,254.80 375.20,254.95 375.35,255.11 375.50,255.27 375.66,255.39 375.81,255.47 375.96,255.50 376.12,255.48 376.28,255.40 376.44,255.29 376.60,255.15 376.76,255.02 376.92,254.90 377.08,254.83 377.24,254.80 377.42,254.85 377.59,254.99 377.76,255.18 377.93,255.36 378.10,255.50 378.28,255.55 378.45,255.51 378.62,255.41 378.79,255.27 378.96,255.11 379.13,254.96 379.30,254.86 379.47,254.83 379.63,254.86 379.79,254.95 379.95,255.09 380.10,255.24 380.26,255.37 380.42,255.47 380.58,255.50 380.74,255.47 380.90,255.38 381.06,255.26 381.22,255.11 381.38,254.96 381.54,254.84 381.70,254.75 381.86,254.72 382.01,254.75 382.17,254.85 382.32,254.99 382.47,255.16 382.62,255.35 382.77,255.52 382.93,255.66 383.08,255.75 383.23,255.79 383.39,255.72 383.56,255.54 383.72,255.27 383.88,254.97 384.05,254.70 384.21,254.52 384.37,254.45 384.54,254.53 384.71,254.76 384.87,255.07 385.04,255.38 385.21,255.61 385.37,255.69 385.54,255.64 385.71,255.51 385.87,255.31 386.04,255.09 386.21,254.89 386.37,254.76 386.54,254.71 386.69,254.77 386.85,254.93 387.00,255.18 387.15,255.44 387.30,255.69 387.46,255.85 387.61,255.91 387.76,255.87 387.91,255.76 388.07,255.60 388.22,255.41 388.37,255.21 388.53,255.05 388.68,254.94 388.83,254.90 388.99,254.92 389.14,254.97 389.29,255.06 389.44,255.16 389.59,255.27 389.75,255.37 389.90,255.46 390.05,255.51 390.20,255.53 390.37,255.50 390.53,255.41 390.70,255.29 390.86,255.14 391.03,254.99 391.20,254.86 391.36,254.77 391.53,254.74 391.70,254.79 391.87,254.92 392.03,255.12 392.20,255.36 392.37,255.60 392.54,255.80 392.71,255.93 392.88,255.98 393.04,255.94 393.21,255.83 393.37,255.66 393.54,255.45 393.71,255.23 393.87,255.02 394.04,254.85 394.20,254.74 394.37,254.70 394.53,254.74 394.70,254.83 394.86,254.98 395.03,255.16 395.19,255.35 395.36,255.54 395.53,255.68 395.69,255.78 395.86,255.81 396.01,255.78 396.16,255.67 396.31,255.52 396.47,255.33 396.62,255.14 396.77,254.99 396.92,254.88 397.08,254.85 397.23,254.87 397.38,254.95 397.53,255.08 397.68,255.23 397.83,255.39 397.98,255.54 398.13,255.66 398.28,255.75 398.44,255.77 398.59,255.74 398.75,255.64 398.91,255.49 399.06,255.30 399.22,255.09 399.38,254.89 399.54,254.70 399.69,254.55 399.85,254.45 400.01,254.42 400.16,254.45 400.31,254.56 400.46,254.73 400.62,254.93 400.77,255.15 400.92,255.35 401.07,255.52 401.22,255.63 401.37,255.66 401.53,255.64 401.68,255.59 401.84,255.51 401.99,255.41 402.14,255.29 402.30,255.18 402.45,255.07 402.60,254.99 402.76,254.94 402.91,254.92 403.06,254.96 403.21,255.08 403.37,255.25 403.52,255.44 403.67,255.61 403.82,255.73 403.98,255.77 404.13,255.75 404.28,255.67 404.43,255.54 404.58,255.39 404.74,255.23 404.89,255.08 405.04,254.96 405.19,254.87 405.34,254.85 405.50,254.88 405.65,254.98 405.80,255.12 405.96,255.30 406.11,255.49 406.26,255.67 406.42,255.82 406.57,255.91 406.72,255.94 406.88,255.90 407.03,255.76 407.18,255.56 407.33,255.32 407.49,255.08 407.64,254.88 407.79,254.74 407.95,254.70 408.11,254.74 408.27,254.87 408.43,255.06 408.60,255.27 408.76,255.46 408.92,255.59 409.08,255.63 409.24,255.61 409.40,255.54 409.56,255.44 409.72,255.32 409.88,255.18 410.03,255.04 410.19,254.91 410.35,254.81 410.51,254.74 410.67,254.72 410.82,254.75 410.98,254.84 411.14,254.98 411.30,255.15 411.46,255.34 411.61,255.53 411.77,255.70 411.93,255.84 412.09,255.92 412.24,255.96 412.39,255.92 412.55,255.82 412.70,255.66 412.85,255.47 413.00,255.27 413.15,255.08 413.30,254.92 413.45,254.82 413.60,254.78 413.76,254.81 413.92,254.88 414.08,254.98 414.24,255.11 414.40,255.26 414.55,255.41 414.71,255.54 414.87,255.65 415.03,255.71 415.19,255.74 415.35,255.70 415.50,255.59 415.66,255.43 415.81,255.25 415.97,255.06 416.13,254.90 416.28,254.79 416.44,254.75 416.60,254.78 416.76,254.85 416.92,254.96 417.08,255.09 417.23,255.24 417.39,255.40 417.55,255.53 417.71,255.64 417.87,255.71 418.03,255.74 418.20,255.68 418.36,255.54 418.53,255.32 418.70,255.09 418.87,254.87 419.03,254.72 419.20,254.67 419.35,254.73 419.51,254.88 419.66,255.11 419.81,255.36 419.97,255.59 420.12,255.75 420.27,255.80 420.45,255.73 420.62,255.54 420.79,255.29 420.96,255.03 421.13,254.84 421.30,254.77" fill="none" stroke="url(#s2)" stroke-width="1.0" stroke-linejoin="round"/>
<polyline points="50.00,255.30 96.40,255.30 96.40,235.40 105.30,235.40 105.30,276.40 114.70,276.40 114.70,235.40 124.20,235.40 124.20,283.00 133.10,283.00 133.10,230.80 142.70,230.80 142.70,283.00 151.80,283.00 151.80,230.80 161.40,230.80 161.40,280.10 170.50,280.10 170.50,227.00 180.00,227.00 180.00,257.20 189.40,257.20 189.40,251.50 198.60,251.50 198.60,258.00 207.90,258.00 207.90,257.30 217.20,257.30 217.20,256.50 236.00,256.50 236.00,255.50 245.30,255.50 245.30,253.80 263.90,253.80 263.90,252.80 273.20,252.80 273.20,254.50 301.00,254.50 301.00,255.70 320.00,255.70 320.00,255.10 421.30,255.10" fill="none" stroke="#ff2020" stroke-width="0.8"/>
<rect x="49.5" y="200.5" width="372" height="109.0" fill="none" stroke="#7a7a7a" stroke-width="1"/>
<text x="50.10" y="319.80" text-anchor="middle" class="tk">0</text>
<line x1="50.10" y1="310.0" x2="50.10" y2="312.0" stroke="#bbb" stroke-width="0.5"/>
<text x="87.24" y="319.80" text-anchor="middle" class="tk">400</text>
<line x1="87.24" y1="310.0" x2="87.24" y2="312.0" stroke="#bbb" stroke-width="0.5"/>
<text x="124.38" y="319.80" text-anchor="middle" class="tk">800</text>
<line x1="124.38" y1="310.0" x2="124.38" y2="312.0" stroke="#bbb" stroke-width="0.5"/>
<text x="161.52" y="319.80" text-anchor="middle" class="tk">1200</text>
<line x1="161.52" y1="310.0" x2="161.52" y2="312.0" stroke="#bbb" stroke-width="0.5"/>
<text x="198.66" y="319.80" text-anchor="middle" class="tk">1600</text>
<line x1="198.66" y1="310.0" x2="198.66" y2="312.0" stroke="#bbb" stroke-width="0.5"/>
<text x="235.80" y="319.80" text-anchor="middle" class="tk">2000</text>
<line x1="235.80" y1="310.0" x2="235.80" y2="312.0" stroke="#bbb" stroke-width="0.5"/>
<text x="272.94" y="319.80" text-anchor="middle" class="tk">2400</text>
<line x1="272.94" y1="310.0" x2="272.94" y2="312.0" stroke="#bbb" stroke-width="0.5"/>
<text x="310.08" y="319.80" text-anchor="middle" class="tk">2800</text>
<line x1="310.08" y1="310.0" x2="310.08" y2="312.0" stroke="#bbb" stroke-width="0.5"/>
<text x="347.22" y="319.80" text-anchor="middle" class="tk">3200</text>
<line x1="347.22" y1="310.0" x2="347.22" y2="312.0" stroke="#bbb" stroke-width="0.5"/>
<text x="384.36" y="319.80" text-anchor="middle" class="tk">3600</text>
<line x1="384.36" y1="310.0" x2="384.36" y2="312.0" stroke="#bbb" stroke-width="0.5"/>
<text x="421.50" y="319.80" text-anchor="middle" class="tk">4000</text>
<line x1="421.50" y1="310.0" x2="421.50" y2="312.0" stroke="#bbb" stroke-width="0.5"/>
<text x="43.4" y="205.30" text-anchor="end" class="tk">6.00</text>
<line x1="46.5" y1="202.30" x2="49" y2="202.30" stroke="#bbb" stroke-width="0.5"/>
<text x="43.4" y="223.10" text-anchor="end" class="tk">4.00</text>
<line x1="46.5" y1="220.10" x2="49" y2="220.10" stroke="#bbb" stroke-width="0.5"/>
<text x="43.4" y="240.90" text-anchor="end" class="tk">2.00</text>
<line x1="46.5" y1="237.90" x2="49" y2="237.90" stroke="#bbb" stroke-width="0.5"/>
<text x="43.4" y="258.70" text-anchor="end" class="tk">0.00</text>
<line x1="46.5" y1="255.70" x2="49" y2="255.70" stroke="#bbb" stroke-width="0.5"/>
<text x="43.4" y="276.50" text-anchor="end" class="tk">−2.00</text>
<line x1="46.5" y1="273.50" x2="49" y2="273.50" stroke="#bbb" stroke-width="0.5"/>
<text x="43.4" y="294.30" text-anchor="end" class="tk">−4.00</text>
<line x1="46.5" y1="291.30" x2="49" y2="291.30" stroke="#bbb" stroke-width="0.5"/>
<text x="43.4" y="312.10" text-anchor="end" class="tk">−6.00</text>
<line x1="46.5" y1="309.10" x2="49" y2="309.10" stroke="#bbb" stroke-width="0.5"/>
<text x="236" y="332.3" text-anchor="middle" class="xl">T<tspan dx="0.7">ime steps</tspan></text>
<text x="27.5" y="198.10" class="mul">×10</text>
<text x="43.6" y="195.80" class="sup"><tspan fill="#999">−</tspan>2</text>
<text transform="translate(10.3,255.50) rotate(-90)" text-anchor="middle" class="yl">Ez (N/C)</text>
<rect x="361.5" y="283.8" width="49" height="22.5" fill="#fff" stroke="#555" stroke-width="0.9"/>
<line x1="365" y1="290.3" x2="382.8" y2="290.3" stroke="#7878ff" stroke-width="1.2"/>
<line x1="365" y1="299.90000000000003" x2="382.8" y2="299.90000000000003" stroke="#ff6a6a" stroke-width="1.2"/>
<text x="385.8" y="292.6" class="lg">CPU</text>
<text x="385.8" y="301.8" class="lg">GPU</text>
<text transform="translate(217.3,355.0) scale(1.13,1)" text-anchor="middle" class="cap"><tspan font-size="15px">(</tspan><tspan font-weight="bold">b</tspan><tspan font-size="15px">)</tspan> 5.00 Ghz</text>
<polygon points="350.30,433.82 350.60,434.98 350.90,435.44 351.20,435.85 351.50,436.90 351.80,437.84 352.10,437.92 352.40,437.90 352.70,438.53 353.00,439.09 353.30,439.00 353.60,439.04 353.90,439.84 354.20,440.56 354.50,440.52 354.80,440.52 355.10,441.10 355.40,441.43 355.70,441.02 356.00,440.80 356.30,441.33 356.60,441.74 356.90,441.53 357.20,441.59 357.50,442.27 357.80,442.62 358.10,442.20 358.40,441.98 358.70,442.36 359.00,442.46 359.30,442.00 359.60,441.96 359.90,442.61 360.20,442.94 360.50,442.63 360.80,442.61 361.10,443.09 361.40,443.09 361.70,442.47 362.00,442.30 362.30,442.78 362.60,442.90 362.90,442.55 363.20,442.69 363.50,443.33 363.80,443.41 364.10,442.88 364.40,442.77 364.70,443.13 365.00,442.99 365.30,442.46 365.60,442.57 365.90,443.20 366.20,443.30 366.50,442.93 366.80,443.07 367.10,443.52 367.40,443.29 367.70,442.66 368.00,442.66 368.30,443.10 368.60,443.02 368.90,442.67 369.20,442.99 369.50,443.59 369.80,443.46 370.10,442.94 370.40,443.01 370.70,443.31 371.00,442.98 371.30,442.50 371.60,442.78 371.90,443.35 372.20,443.26 372.50,442.95 372.80,443.26 373.10,443.62 373.40,443.22 373.70,442.65 374.00,442.83 374.30,443.19 374.60,442.94 374.90,442.68 375.20,443.16 375.50,443.65 375.80,443.35 376.10,442.94 376.40,443.16 376.70,443.35 377.00,442.87 377.30,442.50 377.60,442.94 377.90,443.39 378.20,443.15 378.50,442.96 378.80,443.40 379.10,443.63 379.40,443.08 379.70,442.66 380.00,442.97 380.30,443.19 380.60,442.82 380.90,442.71 381.20,443.31 381.50,443.65 381.80,443.23 382.10,442.96 382.40,443.28 382.70,443.32 383.00,442.74 383.30,442.54 383.60,443.07 383.90,443.36 384.20,443.03 384.50,443.02 384.80,443.53 385.10,443.58 385.40,442.95 385.70,442.71 386.00,443.08 386.30,443.13 386.60,442.70 386.90,442.78 387.20,443.43 387.50,443.58 387.80,443.11 388.10,443.03 388.40,443.39 388.70,443.23 389.00,442.62 389.30,442.62 389.60,443.19 389.90,443.28 390.20,442.94 390.50,443.11 390.80,443.63 391.10,443.48 391.40,442.85 391.70,442.79 392.00,443.17 392.30,443.03 392.60,442.62 392.90,442.89 393.20,443.53 393.50,443.48 393.80,443.03 394.10,443.13 394.40,443.46 394.70,443.12 395.00,442.55 395.30,442.73 395.60,443.26 395.90,443.18 396.20,442.88 396.50,443.23 396.80,443.68 397.10,443.35 397.40,442.79 397.70,442.91 398.00,443.22 398.30,442.91 398.60,442.58 398.90,443.03 399.20,443.57 399.50,443.36 399.80,443.00 400.10,443.25 400.40,443.48 400.70,442.98 401.00,442.52 401.30,442.87 401.60,443.28 401.90,443.05 402.20,442.88 402.50,443.37 402.80,443.69 403.10,443.21 403.40,442.78 403.70,443.04 404.00,443.21 404.30,442.78 404.60,442.60 404.90,443.17 405.20,443.57 405.50,443.23 405.80,443.01 406.10,443.38 406.40,443.45 406.70,442.84 407.00,442.55 407.30,443.00 407.60,443.26 407.90,442.93 408.20,442.92 408.50,443.50 408.80,443.65 409.10,443.08 409.10,445.97 408.80,445.97 408.50,445.63 408.20,445.69 407.90,446.22 407.60,446.49 407.30,446.12 407.00,445.72 406.70,445.87 406.40,446.15 406.10,445.92 405.80,445.40 405.50,445.38 405.20,445.89 404.90,446.15 404.60,445.88 404.30,445.71 404.00,446.09 403.70,446.48 403.40,446.25 403.10,445.71 402.80,445.63 402.50,445.96 402.20,445.99 401.90,445.54 401.60,445.34 401.30,445.78 401.00,446.25 400.70,446.14 400.40,445.81 400.10,445.94 399.80,446.36 399.50,446.32 399.20,445.77 398.90,445.45 398.60,445.73 398.30,446.00 398.00,445.74 397.70,445.42 397.40,445.69 397.10,446.26 396.80,446.36 396.50,445.96 396.20,445.81 395.90,446.15 395.60,446.30 395.30,445.86 395.00,445.38 394.70,445.52 394.40,445.95 394.10,445.95 393.80,445.61 393.50,445.65 393.20,446.19 392.90,446.48 392.60,446.13 392.30,445.75 392.00,445.89 391.70,446.18 391.40,445.95 391.10,445.42 390.80,445.37 390.50,445.86 390.20,446.12 389.90,445.86 389.60,445.68 389.30,446.06 389.00,446.48 388.70,446.28 388.40,445.75 388.10,445.66 387.80,445.99 387.50,446.01 387.20,445.55 386.90,445.33 386.60,445.74 386.30,446.21 386.00,446.12 385.70,445.79 385.40,445.93 385.10,446.37 384.80,446.36 384.50,445.81 384.20,445.48 383.90,445.75 383.60,446.01 383.30,445.74 383.00,445.40 382.70,445.65 382.40,446.22 382.10,446.34 381.80,445.96 381.50,445.82 381.20,446.17 380.90,446.34 380.60,445.90 380.30,445.41 380.00,445.52 379.70,445.94 379.40,445.94 379.10,445.58 378.80,445.61 378.50,446.15 378.20,446.47 377.90,446.15 377.60,445.77 377.30,445.92 377.00,446.22 376.70,445.99 376.40,445.45 376.10,445.37 375.80,445.84 375.50,446.10 375.20,445.84 374.90,445.66 374.60,446.04 374.30,446.49 374.00,446.31 373.70,445.80 373.40,445.70 373.10,446.02 372.80,446.05 372.50,445.58 372.20,445.33 371.90,445.72 371.60,446.20 371.30,446.12 371.00,445.80 370.70,445.94 370.40,446.40 370.10,446.42 369.80,445.89 369.50,445.55 369.20,445.80 368.90,446.06 368.60,445.79 368.30,445.43 368.00,445.66 367.70,446.24 367.40,446.38 367.10,446.03 366.80,445.90 366.50,446.26 366.20,446.47 365.90,446.05 365.60,445.56 365.30,445.66 365.00,446.07 364.70,446.07 364.40,445.72 364.10,445.74 363.80,446.30 363.50,446.66 363.20,446.38 362.90,446.03 362.60,446.21 362.30,446.54 362.00,446.35 361.70,445.82 361.40,445.74 361.10,446.22 360.80,446.52 360.50,446.29 360.20,446.15 359.90,446.58 359.60,447.10 359.30,447.01 359.00,446.56 358.70,446.53 358.40,446.93 358.10,447.03 357.80,446.64 357.50,446.45 357.20,446.92 356.90,447.51 356.60,447.55 356.30,447.37 356.00,447.66 355.70,448.29 355.40,448.51 355.10,448.18 354.80,448.04 354.50,448.50 354.20,448.98 353.90,448.97 353.60,448.87 353.30,449.39 353.00,450.30 352.70,450.82 352.40,450.88 352.10,451.20 351.80,452.05 351.50,452.79 351.20,452.95 350.90,453.06 350.60,453.80 350.30,454.93" fill="#0000ff" fill-opacity="0.45"/>
<polygon points="350.30,437.60 350.60,438.17 350.90,438.69 351.20,439.16 351.50,439.58 351.80,439.96 352.10,440.31 352.40,440.62 352.70,440.90 353.00,441.16 353.30,441.39 353.60,441.60 353.90,441.79 354.20,441.96 354.50,442.12 354.80,442.26 355.10,442.39 355.40,442.50 355.70,442.61 356.00,442.70 356.30,442.79 356.60,442.87 356.90,442.94 357.20,443.00 357.50,443.06 357.80,443.11 358.10,443.15 358.40,443.20 358.70,443.24 359.00,443.27 359.30,443.30 359.60,443.33 359.90,443.36 360.20,443.38 360.50,443.40 360.80,443.42 361.10,443.44 361.40,443.45 361.70,443.47 362.00,443.48 362.30,443.49 362.60,443.50 362.90,443.51 363.20,443.52 363.50,443.53 363.80,443.53 364.10,443.54 364.40,443.55 364.70,443.55 365.00,443.56 365.30,443.56 365.60,443.56 365.90,443.57 366.20,443.57 366.50,443.57 366.80,443.58 367.10,443.58 367.40,443.58 367.70,443.58 368.00,443.58 368.30,443.59 368.60,443.59 368.90,443.59 369.20,443.59 369.50,443.59 369.80,443.59 370.10,443.59 370.40,443.59 370.70,443.59 371.00,443.59 371.30,443.59 371.60,443.60 371.90,443.60 372.20,443.60 372.50,443.60 372.80,443.60 373.10,443.60 373.40,443.60 373.70,443.60 374.00,443.60 374.30,443.60 374.60,443.60 374.90,443.60 375.20,443.60 375.50,443.60 375.80,443.60 376.10,443.60 376.40,443.60 376.70,443.60 377.00,443.60 377.30,443.60 377.60,443.60 377.90,443.60 378.20,443.60 378.50,443.60 378.80,443.60 379.10,443.60 379.40,443.60 379.70,443.60 380.00,443.60 380.30,443.60 380.60,443.60 380.90,443.60 381.20,443.60 381.50,443.60 381.80,443.60 382.10,443.60 382.40,443.60 382.70,443.60 383.00,443.60 383.30,443.60 383.60,443.60 383.90,443.60 384.20,443.60 384.50,443.60 384.80,443.60 385.10,443.60 385.40,443.60 385.70,443.60 386.00,443.60 386.30,443.60 386.60,443.60 386.90,443.60 387.20,443.60 387.50,443.60 387.80,443.60 388.10,443.60 388.40,443.60 388.70,443.60 389.00,443.60 389.30,443.60 389.60,443.60 389.90,443.60 390.20,443.60 390.50,443.60 390.80,443.60 391.10,443.60 391.40,443.60 391.70,443.60 392.00,443.60 392.30,443.60 392.60,443.60 392.90,443.60 393.20,443.60 393.50,443.60 393.80,443.60 394.10,443.60 394.40,443.60 394.70,443.60 395.00,443.60 395.30,443.60 395.60,443.60 395.90,443.60 396.20,443.60 396.50,443.60 396.80,443.60 397.10,443.60 397.40,443.60 397.70,443.60 398.00,443.60 398.30,443.60 398.60,443.60 398.90,443.60 399.20,443.60 399.50,443.60 399.80,443.60 400.10,443.60 400.40,443.60 400.70,443.60 401.00,443.60 401.30,443.60 401.60,443.60 401.90,443.60 402.20,443.60 402.50,443.60 402.80,443.60 403.10,443.60 403.40,443.60 403.70,443.60 404.00,443.60 404.30,443.60 404.60,443.60 404.90,443.60 405.20,443.60 405.50,443.60 405.80,443.60 406.10,443.60 406.40,443.60 406.70,443.60 407.00,443.60 407.30,443.60 407.60,443.60 407.90,443.60 408.20,443.60 408.50,443.60 408.80,443.60 409.10,443.60 409.10,445.40 408.80,445.40 408.50,445.40 408.20,445.40 407.90,445.40 407.60,445.40 407.30,445.40 407.00,445.40 406.70,445.40 406.40,445.40 406.10,445.40 405.80,445.40 405.50,445.40 405.20,445.40 404.90,445.40 404.60,445.40 404.30,445.40 404.00,445.40 403.70,445.40 403.40,445.40 403.10,445.40 402.80,445.40 402.50,445.40 402.20,445.40 401.90,445.40 401.60,445.40 401.30,445.40 401.00,445.40 400.70,445.40 400.40,445.40 400.10,445.40 399.80,445.40 399.50,445.40 399.20,445.40 398.90,445.40 398.60,445.40 398.30,445.40 398.00,445.40 397.70,445.40 397.40,445.40 397.10,445.40 396.80,445.40 396.50,445.40 396.20,445.40 395.90,445.40 395.60,445.40 395.30,445.40 395.00,445.40 394.70,445.40 394.40,445.40 394.10,445.40 393.80,445.40 393.50,445.40 393.20,445.40 392.90,445.40 392.60,445.40 392.30,445.40 392.00,445.40 391.70,445.40 391.40,445.40 391.10,445.40 390.80,445.40 390.50,445.40 390.20,445.40 389.90,445.40 389.60,445.40 389.30,445.40 389.00,445.40 388.70,445.40 388.40,445.40 388.10,445.40 387.80,445.40 387.50,445.40 387.20,445.40 386.90,445.40 386.60,445.40 386.30,445.40 386.00,445.40 385.70,445.40 385.40,445.40 385.10,445.40 384.80,445.40 384.50,445.40 384.20,445.40 383.90,445.40 383.60,445.40 383.30,445.40 383.00,445.40 382.70,445.40 382.40,445.40 382.10,445.40 381.80,445.40 381.50,445.40 381.20,445.40 380.90,445.40 380.60,445.40 380.30,445.40 380.00,445.40 379.70,445.40 379.40,445.40 379.10,445.40 378.80,445.40 378.50,445.40 378.20,445.40 377.90,445.40 377.60,445.40 377.30,445.40 377.00,445.40 376.70,445.40 376.40,445.40 376.10,445.40 375.80,445.40 375.50,445.40 375.20,445.40 374.90,445.40 374.60,445.40 374.30,445.40 374.00,445.40 373.70,445.40 373.40,445.40 373.10,445.40 372.80,445.40 372.50,445.40 372.20,445.40 371.90,445.40 371.60,445.40 371.30,445.41 371.00,445.41 370.70,445.41 370.40,445.41 370.10,445.41 369.80,445.41 369.50,445.41 369.20,445.41 368.90,445.41 368.60,445.41 368.30,445.41 368.00,445.42 367.70,445.42 367.40,445.42 367.10,445.42 366.80,445.42 366.50,445.43 366.20,445.43 365.90,445.43 365.60,445.44 365.30,445.44 365.00,445.44 364.70,445.45 364.40,445.45 364.10,445.46 363.80,445.47 363.50,445.47 363.20,445.48 362.90,445.49 362.60,445.50 362.30,445.51 362.00,445.52 361.70,445.53 361.40,445.55 361.10,445.56 360.80,445.58 360.50,445.60 360.20,445.62 359.90,445.64 359.60,445.67 359.30,445.70 359.00,445.73 358.70,445.76 358.40,445.80 358.10,445.85 357.80,445.89 357.50,445.94 357.20,446.00 356.90,446.06 356.60,446.13 356.30,446.21 356.00,446.30 355.70,446.39 355.40,446.50 355.10,446.61 354.80,446.74 354.50,446.88 354.20,447.04 353.90,447.21 353.60,447.40 353.30,447.61 353.00,447.84 352.70,448.10 352.40,448.38 352.10,448.69 351.80,449.04 351.50,449.42 351.20,449.84 350.90,450.31 350.60,450.83 350.30,451.40" fill="#0000ff" fill-opacity="0.8"/>
<polyline points="287.60,445.00 287.73,445.00 287.87,445.00 288.00,445.00 288.12,444.69 288.24,443.89 288.36,442.91 288.48,442.11 288.60,441.80 288.73,442.23 288.87,443.07 289.00,443.50 289.12,442.97 289.24,441.40 289.36,438.86 289.49,435.50 289.61,431.47 289.73,426.98 289.85,422.25 289.97,417.52 290.09,413.03 290.21,409.00 290.34,405.64 290.46,403.10 290.58,401.53 290.70,401.00 290.83,403.13 290.96,409.32 291.09,418.95 291.22,431.09 291.35,444.55 291.48,458.01 291.61,470.15 291.74,479.78 291.87,485.97 292.00,488.10 292.12,486.79 292.25,482.95 292.37,476.80 292.49,468.68 292.62,459.09 292.74,448.57 292.86,437.73 292.98,427.21 293.11,417.62 293.23,409.50 293.35,403.35 293.48,399.51 293.60,398.20 293.73,399.71 293.85,404.14 293.98,411.19 294.10,420.38 294.23,431.07 294.35,442.55 294.48,454.03 294.60,464.72 294.73,473.91 294.85,480.96 294.98,485.39 295.10,486.90 295.23,485.13 295.35,479.97 295.48,471.83 295.61,461.38 295.74,449.46 295.86,437.04 295.99,425.12 296.12,414.67 296.25,406.53 296.37,401.37 296.50,399.60 296.62,400.90 296.75,404.74 296.87,410.88 296.99,418.97 297.12,428.55 297.24,439.04 297.36,449.86 297.48,460.35 297.61,469.93 297.73,478.02 297.85,484.16 297.98,488.00 298.10,489.30 298.23,487.48 298.35,482.16 298.48,473.77 298.61,462.99 298.74,450.70 298.86,437.90 298.99,425.61 299.12,414.83 299.25,406.44 299.37,401.12 299.50,399.30 299.63,401.11 299.75,406.38 299.88,414.69 300.01,425.37 300.14,437.55 300.26,450.25 300.39,462.43 300.52,473.11 300.65,481.42 300.77,486.69 300.90,488.50 301.02,486.98 301.15,482.52 301.27,475.44 301.40,466.20 301.52,455.44 301.65,443.90 301.77,432.36 301.90,421.60 302.02,412.36 302.15,405.28 302.27,400.82 302.40,399.30 302.53,401.47 302.66,407.78 302.79,417.60 302.92,429.98 303.05,443.70 303.18,457.42 303.31,469.80 303.44,479.62 303.57,485.93 303.70,488.10 303.82,487.14 303.94,484.30 304.06,479.72 304.18,473.57 304.30,466.15 304.42,457.77 304.54,448.79 304.66,439.61 304.78,430.63 304.90,422.25 305.02,414.83 305.14,408.68 305.26,404.10 305.38,401.26 305.50,400.30 305.63,402.46 305.76,408.72 305.89,418.48 306.02,430.77 306.15,444.40 306.28,458.03 306.41,470.32 306.54,480.08 306.67,486.34 306.80,488.50 306.92,487.40 307.04,484.16 307.16,478.93 307.29,471.99 307.41,463.68 307.53,454.41 307.65,444.65 307.77,434.89 307.89,425.62 308.01,417.31 308.14,410.37 308.26,405.14 308.38,401.90 308.50,400.80 308.63,402.96 308.76,409.21 308.89,418.96 309.02,431.24 309.15,444.85 309.28,458.46 309.41,470.74 309.54,480.49 309.67,486.74 309.80,488.90 309.92,487.62 310.05,483.84 310.17,477.80 310.29,469.83 310.42,460.41 310.54,450.07 310.66,439.43 310.78,429.09 310.91,419.67 311.03,411.70 311.15,405.66 311.28,401.88 311.40,400.60 311.52,402.78 311.64,409.11 311.76,418.96 311.88,431.38 312.00,445.15 312.12,458.92 312.24,471.34 312.36,481.19 312.48,487.52 312.60,489.70 312.73,488.59 312.86,485.30 312.99,480.00 313.11,472.96 313.24,464.54 313.37,455.14 313.50,445.25 313.63,435.36 313.76,425.96 313.89,417.54 314.01,410.50 314.14,405.20 314.27,401.91 314.40,400.80 314.52,404.12 314.65,413.58 314.77,427.75 314.90,444.45 315.02,461.15 315.15,475.32 315.27,484.78 315.40,488.10 315.52,487.36 315.65,485.17 315.77,481.59 315.89,476.76 316.02,470.83 316.14,464.02 316.26,456.54 316.39,448.66 316.51,440.64 316.64,432.76 316.76,425.28 316.88,418.47 317.01,412.54 317.13,407.71 317.25,404.13 317.38,401.94 317.50,401.20 317.62,404.52 317.75,413.98 317.88,428.15 318.00,444.85 318.12,461.55 318.25,475.72 318.38,485.18 318.50,488.50 318.62,487.65 318.75,485.14 318.88,481.05 319.00,475.55 319.12,468.86 319.25,461.21 319.38,452.92 319.50,444.30 319.62,435.68 319.75,427.39 319.88,419.74 320.00,413.05 320.12,407.55 320.25,403.46 320.38,400.95 320.50,400.10 320.63,404.52 320.76,416.89 320.89,434.78 321.01,454.62 321.14,472.51 321.27,484.88 321.40,489.30 321.52,488.33 321.64,485.47 321.76,480.85 321.88,474.66 322.00,467.18 322.12,458.72 322.24,449.68 322.36,440.42 322.48,431.38 322.60,422.93 322.72,415.44 322.84,409.25 322.96,404.63 323.08,401.77 323.20,400.80 323.32,403.49 323.44,411.22 323.57,423.07 323.69,437.61 323.81,453.09 323.93,467.62 324.06,479.48 324.18,487.21 324.30,489.90 324.42,488.78 324.54,485.49 324.66,480.18 324.79,473.13 324.91,464.68 325.03,455.26 325.15,445.35 325.27,435.44 325.39,426.02 325.51,417.57 325.64,410.52 325.76,405.21 325.88,401.92 326.00,400.80 326.12,402.29 326.25,406.67 326.38,413.64 326.50,422.73 326.62,433.30 326.75,444.65 326.88,456.00 327.00,466.57 327.12,475.66 327.25,482.63 327.38,487.01 327.50,488.50 327.63,485.86 327.77,478.24 327.90,466.57 328.03,452.26 328.17,437.04 328.30,422.73 328.43,411.06 328.57,403.44 328.70,400.80 328.82,401.77 328.94,404.64 329.06,409.29 329.18,415.51 329.30,423.02 329.42,431.51 329.54,440.60 329.66,449.90 329.78,458.99 329.90,467.47 330.02,474.99 330.14,481.21 330.26,485.86 330.38,488.73 330.50,489.70 330.62,488.19 330.75,483.74 330.88,476.68 331.00,467.48 331.12,456.75 331.25,445.25 331.38,433.75 331.50,423.03 331.62,413.82 331.75,406.76 331.88,402.31 332.00,400.80 332.12,402.30 332.25,406.70 332.38,413.70 332.50,422.82 332.62,433.45 332.75,444.85 332.88,456.25 333.00,466.88 333.12,476.00 333.25,483.00 333.38,487.40 333.50,488.90 333.62,487.38 333.75,482.93 333.88,475.85 334.00,466.62 334.12,455.88 334.25,444.35 334.38,432.82 334.50,422.08 334.62,412.85 334.75,405.77 334.88,401.32 335.00,399.80 335.13,401.60 335.25,406.84 335.38,415.11 335.51,425.73 335.64,437.84 335.76,450.46 335.89,462.57 336.02,473.19 336.15,481.46 336.27,486.70 336.40,488.50 336.53,486.71 336.65,481.50 336.78,473.28 336.91,462.72 337.04,450.68 337.16,438.12 337.29,426.08 337.42,415.52 337.55,407.30 337.67,402.09 337.80,400.30 337.92,401.58 338.05,405.35 338.17,411.39 338.29,419.35 338.42,428.76 338.54,439.08 338.66,449.72 338.78,460.04 338.91,469.45 339.03,477.41 339.15,483.45 339.28,487.22 339.40,488.50 339.53,486.35 339.66,480.13 339.79,470.42 339.92,458.20 340.05,444.65 340.18,431.10 340.31,418.88 340.44,409.17 340.57,402.95 340.70,400.80 340.82,401.90 340.94,405.16 341.06,410.41 341.19,417.39 341.31,425.74 341.43,435.05 341.55,444.85 341.67,454.65 341.79,463.96 341.91,472.31 342.04,479.29 342.16,484.54 342.28,487.80 342.40,488.90 342.53,486.75 342.66,480.51 342.79,470.78 342.92,458.53 343.05,444.95 343.18,431.37 343.31,419.12 343.44,409.39 343.57,403.15 343.70,401.00 343.82,402.11 343.94,405.37 344.06,410.63 344.19,417.62 344.31,425.99 344.43,435.33 344.55,445.15 344.67,454.97 344.79,464.31 344.91,472.68 345.04,479.67 345.16,484.93 345.28,488.19 345.40,489.30 345.53,487.14 345.66,480.89 345.79,471.14 345.92,458.86 346.05,445.25 346.18,431.64 346.31,419.36 346.44,409.61 346.57,403.36 346.70,401.20 346.82,402.71 346.95,407.13 347.07,414.16 347.20,423.32 347.32,434.00 347.45,445.45 347.57,456.90 347.70,467.57 347.82,476.74 347.95,483.77 348.07,488.19 348.20,489.70 348.33,487.68 348.46,481.82 348.59,472.70 348.72,461.20 348.85,448.45 348.98,435.70 349.11,424.20 349.24,415.08 349.37,409.22 349.50,407.20 349.62,408.64 349.74,412.79 349.87,419.15 349.99,426.95 350.11,435.25 350.23,443.05 350.36,449.41 350.48,453.56 350.60,455.00" fill="none" stroke="url(#s3)" stroke-width="0.85" stroke-linejoin="round"/>
<polyline points="50.00,446.00 297.60,446.00 297.60,467.10 313.40,467.10 313.40,481.60 328.20,481.60 328.20,421.10 344.10,421.10 344.10,408.50 359.60,408.50 359.60,442.40 374.50,442.40 374.50,443.60 390.00,443.60 390.00,444.40 409.40,444.40" fill="none" stroke="#ff3030" stroke-width="0.9"/>
<rect x="49.5" y="389.5" width="372" height="108.0" fill="none" stroke="#7a7a7a" stroke-width="1"/>
<text x="50.10" y="507.80" text-anchor="middle" class="tk">0</text>
<line x1="50.10" y1="498.0" x2="50.10" y2="500.0" stroke="#bbb" stroke-width="0.5"/>
<text x="91.37" y="507.80" text-anchor="middle" class="tk">400</text>
<line x1="91.37" y1="498.0" x2="91.37" y2="500.0" stroke="#bbb" stroke-width="0.5"/>
<text x="132.63" y="507.80" text-anchor="middle" class="tk">800</text>
<line x1="132.63" y1="498.0" x2="132.63" y2="500.0" stroke="#bbb" stroke-width="0.5"/>
<text x="173.90" y="507.80" text-anchor="middle" class="tk">1200</text>
<line x1="173.90" y1="498.0" x2="173.90" y2="500.0" stroke="#bbb" stroke-width="0.5"/>
<text x="215.17" y="507.80" text-anchor="middle" class="tk">1600</text>
<line x1="215.17" y1="498.0" x2="215.17" y2="500.0" stroke="#bbb" stroke-width="0.5"/>
<text x="256.43" y="507.80" text-anchor="middle" class="tk">2000</text>
<line x1="256.43" y1="498.0" x2="256.43" y2="500.0" stroke="#bbb" stroke-width="0.5"/>
<text x="297.70" y="507.80" text-anchor="middle" class="tk">2400</text>
<line x1="297.70" y1="498.0" x2="297.70" y2="500.0" stroke="#bbb" stroke-width="0.5"/>
<text x="338.97" y="507.80" text-anchor="middle" class="tk">2800</text>
<line x1="338.97" y1="498.0" x2="338.97" y2="500.0" stroke="#bbb" stroke-width="0.5"/>
<text x="380.23" y="507.80" text-anchor="middle" class="tk">3200</text>
<line x1="380.23" y1="498.0" x2="380.23" y2="500.0" stroke="#bbb" stroke-width="0.5"/>
<text x="421.50" y="507.80" text-anchor="middle" class="tk">3600</text>
<line x1="421.50" y1="498.0" x2="421.50" y2="500.0" stroke="#bbb" stroke-width="0.5"/>
<text x="43.4" y="397.00" text-anchor="end" class="tk">2.00</text>
<line x1="46.5" y1="394.00" x2="49" y2="394.00" stroke="#bbb" stroke-width="0.5"/>
<text x="43.4" y="409.90" text-anchor="end" class="tk">1.50</text>
<line x1="46.5" y1="406.90" x2="49" y2="406.90" stroke="#bbb" stroke-width="0.5"/>
<text x="43.4" y="422.80" text-anchor="end" class="tk">1.00</text>
<line x1="46.5" y1="419.80" x2="49" y2="419.80" stroke="#bbb" stroke-width="0.5"/>
<text x="43.4" y="435.70" text-anchor="end" class="tk">0.50</text>
<line x1="46.5" y1="432.70" x2="49" y2="432.70" stroke="#bbb" stroke-width="0.5"/>
<text x="43.4" y="448.60" text-anchor="end" class="tk">0.00</text>
<line x1="46.5" y1="445.60" x2="49" y2="445.60" stroke="#bbb" stroke-width="0.5"/>
<text x="43.4" y="461.50" text-anchor="end" class="tk">0.50</text>
<line x1="46.5" y1="458.50" x2="49" y2="458.50" stroke="#bbb" stroke-width="0.5"/>
<text x="43.4" y="474.40" text-anchor="end" class="tk">1.00</text>
<line x1="46.5" y1="471.40" x2="49" y2="471.40" stroke="#bbb" stroke-width="0.5"/>
<text x="43.4" y="487.30" text-anchor="end" class="tk">1.50</text>
<line x1="46.5" y1="484.30" x2="49" y2="484.30" stroke="#bbb" stroke-width="0.5"/>
<text x="43.4" y="500.20" text-anchor="end" class="tk">2.00</text>
<line x1="46.5" y1="497.20" x2="49" y2="497.20" stroke="#bbb" stroke-width="0.5"/>
<text x="236" y="520.6" text-anchor="middle" class="xl">T<tspan dx="0.7">ime steps</tspan></text>
<text x="27.5" y="386.60" class="mul">×10</text>
<text x="43.6" y="384.30" class="sup"><tspan fill="#999">−</tspan>2</text>
<text transform="translate(10.3,444.00) rotate(-90)" text-anchor="middle" class="yl">Ez (N/C)</text>
<rect x="361.5" y="472.5" width="49" height="22.5" fill="#fff" stroke="#555" stroke-width="0.9"/>
<line x1="365" y1="479.0" x2="382.8" y2="479.0" stroke="#9898ff" stroke-width="1.1"/>
<line x1="365" y1="488.6" x2="382.8" y2="488.6" stroke="#ff4545" stroke-width="1.0"/>
<text x="385.8" y="481.3" class="lg">CPU</text>
<text x="385.8" y="490.5" class="lg">GPU</text>
<text transform="translate(217.3,543.3) scale(1.13,1)" text-anchor="middle" class="cap"><tspan font-size="15px">(</tspan><tspan font-weight="bold">c</tspan><tspan font-size="15px">)</tspan> 20.00 Ghz</text>
</svg></body></html>
